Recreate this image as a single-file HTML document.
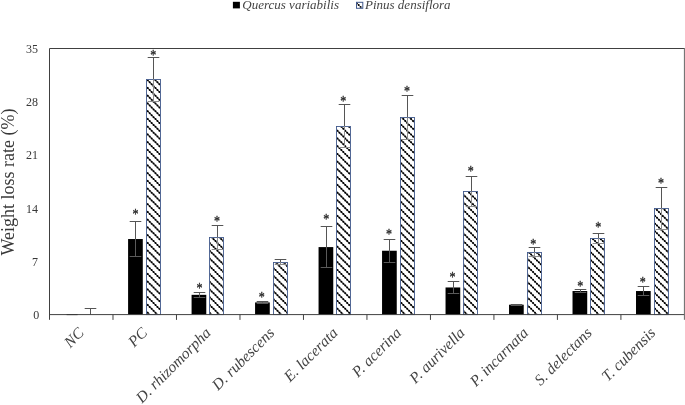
<!DOCTYPE html>
<html><head><meta charset="utf-8"><title>Weight loss rate</title>
<style>
html,body{margin:0;padding:0;background:#fff;}
body{width:685px;height:405px;overflow:hidden;}
svg{display:block;}
text{font-family:"Liberation Serif","Times New Roman",serif;fill:#383838;}
.it{font-style:italic;fill:#444;}
</style></head><body>
<svg width="685" height="405" viewBox="0 0 685 405">
<rect width="685" height="405" fill="#fff"/>

<rect x="232.9" y="1.8" width="7" height="6.6" fill="#000"/>
<text class="it" x="242.3" y="9.3" font-size="13">Quercus variabilis</text>
<clipPath id="lg"><rect x="357" y="2.8" width="5.3" height="5"/></clipPath>
<g clip-path="url(#lg)"><circle cx="356.8" cy="3.2" r="1"/><circle cx="358.7" cy="5.1" r="1"/><circle cx="360.6" cy="7.1" r="1"/><path d="M355,1.4L363,9.4" stroke="#000" stroke-opacity="0.45" stroke-width="1"/></g>
<rect x="356.5" y="2.3" width="6.3" height="6" fill="none" stroke="#41598c" stroke-width="1"/>
<text class="it" x="365" y="9.3" font-size="13">Pinus densiflora</text>
<text transform="translate(14,255.6) rotate(-90)" font-size="18">Weight loss rate (%)</text>
<text x="39.2" y="319.4" font-size="12" text-anchor="end">0</text>
<text x="38.0" y="265.7" font-size="12" text-anchor="end">7</text>
<text x="38.0" y="212.5" font-size="12" text-anchor="end">14</text>
<text x="38.0" y="159.2" font-size="12" text-anchor="end">21</text>
<text x="38.0" y="106.0" font-size="12" text-anchor="end">28</text>
<text x="38.0" y="52.8" font-size="12" text-anchor="end">35</text>
<rect x="66.60" y="314.00" width="11.00" height="1.10" fill="#000"/>
<path d="M90.50,308.50 V314.60 M84.70,308.50 h11.6" stroke="#555" stroke-width="1" fill="none"/>
<rect x="128.09" y="239.03" width="14.70" height="75.57" fill="#000"/>
<clipPath id="c1"><rect x="146.95" y="79.95" width="13.10" height="234.65"/></clipPath><g clip-path="url(#c1)"><path fill="#000" d="M146.76,80.35a1.00,1.00 0 1 0 2.00,0a1.00,1.00 0 1 0 -2.00,0zM154.51,80.35a1.00,1.00 0 1 0 2.00,0a1.00,1.00 0 1 0 -2.00,0zM148.70,82.29a1.00,1.00 0 1 0 2.00,0a1.00,1.00 0 1 0 -2.00,0zM156.45,82.29a1.00,1.00 0 1 0 2.00,0a1.00,1.00 0 1 0 -2.00,0zM150.64,84.23a1.00,1.00 0 1 0 2.00,0a1.00,1.00 0 1 0 -2.00,0zM158.38,84.23a1.00,1.00 0 1 0 2.00,0a1.00,1.00 0 1 0 -2.00,0zM152.57,86.16a1.00,1.00 0 1 0 2.00,0a1.00,1.00 0 1 0 -2.00,0zM146.76,88.10a1.00,1.00 0 1 0 2.00,0a1.00,1.00 0 1 0 -2.00,0zM154.51,88.10a1.00,1.00 0 1 0 2.00,0a1.00,1.00 0 1 0 -2.00,0zM148.70,90.04a1.00,1.00 0 1 0 2.00,0a1.00,1.00 0 1 0 -2.00,0zM156.45,90.04a1.00,1.00 0 1 0 2.00,0a1.00,1.00 0 1 0 -2.00,0zM150.64,91.97a1.00,1.00 0 1 0 2.00,0a1.00,1.00 0 1 0 -2.00,0zM158.38,91.97a1.00,1.00 0 1 0 2.00,0a1.00,1.00 0 1 0 -2.00,0zM152.57,93.91a1.00,1.00 0 1 0 2.00,0a1.00,1.00 0 1 0 -2.00,0zM146.76,95.84a1.00,1.00 0 1 0 2.00,0a1.00,1.00 0 1 0 -2.00,0zM154.51,95.84a1.00,1.00 0 1 0 2.00,0a1.00,1.00 0 1 0 -2.00,0zM148.70,97.78a1.00,1.00 0 1 0 2.00,0a1.00,1.00 0 1 0 -2.00,0zM156.45,97.78a1.00,1.00 0 1 0 2.00,0a1.00,1.00 0 1 0 -2.00,0zM150.64,99.72a1.00,1.00 0 1 0 2.00,0a1.00,1.00 0 1 0 -2.00,0zM158.38,99.72a1.00,1.00 0 1 0 2.00,0a1.00,1.00 0 1 0 -2.00,0zM152.57,101.65a1.00,1.00 0 1 0 2.00,0a1.00,1.00 0 1 0 -2.00,0zM146.76,103.59a1.00,1.00 0 1 0 2.00,0a1.00,1.00 0 1 0 -2.00,0zM154.51,103.59a1.00,1.00 0 1 0 2.00,0a1.00,1.00 0 1 0 -2.00,0zM148.70,105.53a1.00,1.00 0 1 0 2.00,0a1.00,1.00 0 1 0 -2.00,0zM156.45,105.53a1.00,1.00 0 1 0 2.00,0a1.00,1.00 0 1 0 -2.00,0zM150.64,107.46a1.00,1.00 0 1 0 2.00,0a1.00,1.00 0 1 0 -2.00,0zM158.38,107.46a1.00,1.00 0 1 0 2.00,0a1.00,1.00 0 1 0 -2.00,0zM152.57,109.40a1.00,1.00 0 1 0 2.00,0a1.00,1.00 0 1 0 -2.00,0zM146.76,111.33a1.00,1.00 0 1 0 2.00,0a1.00,1.00 0 1 0 -2.00,0zM154.51,111.33a1.00,1.00 0 1 0 2.00,0a1.00,1.00 0 1 0 -2.00,0zM148.70,113.27a1.00,1.00 0 1 0 2.00,0a1.00,1.00 0 1 0 -2.00,0zM156.45,113.27a1.00,1.00 0 1 0 2.00,0a1.00,1.00 0 1 0 -2.00,0zM150.64,115.21a1.00,1.00 0 1 0 2.00,0a1.00,1.00 0 1 0 -2.00,0zM158.38,115.21a1.00,1.00 0 1 0 2.00,0a1.00,1.00 0 1 0 -2.00,0zM152.57,117.14a1.00,1.00 0 1 0 2.00,0a1.00,1.00 0 1 0 -2.00,0zM146.76,119.08a1.00,1.00 0 1 0 2.00,0a1.00,1.00 0 1 0 -2.00,0zM154.51,119.08a1.00,1.00 0 1 0 2.00,0a1.00,1.00 0 1 0 -2.00,0zM148.70,121.02a1.00,1.00 0 1 0 2.00,0a1.00,1.00 0 1 0 -2.00,0zM156.45,121.02a1.00,1.00 0 1 0 2.00,0a1.00,1.00 0 1 0 -2.00,0zM150.64,122.95a1.00,1.00 0 1 0 2.00,0a1.00,1.00 0 1 0 -2.00,0zM158.38,122.95a1.00,1.00 0 1 0 2.00,0a1.00,1.00 0 1 0 -2.00,0zM152.57,124.89a1.00,1.00 0 1 0 2.00,0a1.00,1.00 0 1 0 -2.00,0zM146.76,126.82a1.00,1.00 0 1 0 2.00,0a1.00,1.00 0 1 0 -2.00,0zM154.51,126.82a1.00,1.00 0 1 0 2.00,0a1.00,1.00 0 1 0 -2.00,0zM148.70,128.76a1.00,1.00 0 1 0 2.00,0a1.00,1.00 0 1 0 -2.00,0zM156.45,128.76a1.00,1.00 0 1 0 2.00,0a1.00,1.00 0 1 0 -2.00,0zM150.64,130.70a1.00,1.00 0 1 0 2.00,0a1.00,1.00 0 1 0 -2.00,0zM158.38,130.70a1.00,1.00 0 1 0 2.00,0a1.00,1.00 0 1 0 -2.00,0zM152.57,132.63a1.00,1.00 0 1 0 2.00,0a1.00,1.00 0 1 0 -2.00,0zM146.76,134.57a1.00,1.00 0 1 0 2.00,0a1.00,1.00 0 1 0 -2.00,0zM154.51,134.57a1.00,1.00 0 1 0 2.00,0a1.00,1.00 0 1 0 -2.00,0zM148.70,136.51a1.00,1.00 0 1 0 2.00,0a1.00,1.00 0 1 0 -2.00,0zM156.45,136.51a1.00,1.00 0 1 0 2.00,0a1.00,1.00 0 1 0 -2.00,0zM150.64,138.44a1.00,1.00 0 1 0 2.00,0a1.00,1.00 0 1 0 -2.00,0zM158.38,138.44a1.00,1.00 0 1 0 2.00,0a1.00,1.00 0 1 0 -2.00,0zM152.57,140.38a1.00,1.00 0 1 0 2.00,0a1.00,1.00 0 1 0 -2.00,0zM146.76,142.31a1.00,1.00 0 1 0 2.00,0a1.00,1.00 0 1 0 -2.00,0zM154.51,142.31a1.00,1.00 0 1 0 2.00,0a1.00,1.00 0 1 0 -2.00,0zM148.70,144.25a1.00,1.00 0 1 0 2.00,0a1.00,1.00 0 1 0 -2.00,0zM156.45,144.25a1.00,1.00 0 1 0 2.00,0a1.00,1.00 0 1 0 -2.00,0zM150.64,146.19a1.00,1.00 0 1 0 2.00,0a1.00,1.00 0 1 0 -2.00,0zM158.38,146.19a1.00,1.00 0 1 0 2.00,0a1.00,1.00 0 1 0 -2.00,0zM152.57,148.12a1.00,1.00 0 1 0 2.00,0a1.00,1.00 0 1 0 -2.00,0zM146.76,150.06a1.00,1.00 0 1 0 2.00,0a1.00,1.00 0 1 0 -2.00,0zM154.51,150.06a1.00,1.00 0 1 0 2.00,0a1.00,1.00 0 1 0 -2.00,0zM148.70,152.00a1.00,1.00 0 1 0 2.00,0a1.00,1.00 0 1 0 -2.00,0zM156.45,152.00a1.00,1.00 0 1 0 2.00,0a1.00,1.00 0 1 0 -2.00,0zM150.64,153.93a1.00,1.00 0 1 0 2.00,0a1.00,1.00 0 1 0 -2.00,0zM158.38,153.93a1.00,1.00 0 1 0 2.00,0a1.00,1.00 0 1 0 -2.00,0zM152.57,155.87a1.00,1.00 0 1 0 2.00,0a1.00,1.00 0 1 0 -2.00,0zM146.76,157.80a1.00,1.00 0 1 0 2.00,0a1.00,1.00 0 1 0 -2.00,0zM154.51,157.80a1.00,1.00 0 1 0 2.00,0a1.00,1.00 0 1 0 -2.00,0zM148.70,159.74a1.00,1.00 0 1 0 2.00,0a1.00,1.00 0 1 0 -2.00,0zM156.45,159.74a1.00,1.00 0 1 0 2.00,0a1.00,1.00 0 1 0 -2.00,0zM150.64,161.68a1.00,1.00 0 1 0 2.00,0a1.00,1.00 0 1 0 -2.00,0zM158.38,161.68a1.00,1.00 0 1 0 2.00,0a1.00,1.00 0 1 0 -2.00,0zM152.57,163.61a1.00,1.00 0 1 0 2.00,0a1.00,1.00 0 1 0 -2.00,0zM146.76,165.55a1.00,1.00 0 1 0 2.00,0a1.00,1.00 0 1 0 -2.00,0zM154.51,165.55a1.00,1.00 0 1 0 2.00,0a1.00,1.00 0 1 0 -2.00,0zM148.70,167.49a1.00,1.00 0 1 0 2.00,0a1.00,1.00 0 1 0 -2.00,0zM156.45,167.49a1.00,1.00 0 1 0 2.00,0a1.00,1.00 0 1 0 -2.00,0zM150.64,169.42a1.00,1.00 0 1 0 2.00,0a1.00,1.00 0 1 0 -2.00,0zM158.38,169.42a1.00,1.00 0 1 0 2.00,0a1.00,1.00 0 1 0 -2.00,0zM152.57,171.36a1.00,1.00 0 1 0 2.00,0a1.00,1.00 0 1 0 -2.00,0zM146.76,173.29a1.00,1.00 0 1 0 2.00,0a1.00,1.00 0 1 0 -2.00,0zM154.51,173.29a1.00,1.00 0 1 0 2.00,0a1.00,1.00 0 1 0 -2.00,0zM148.70,175.23a1.00,1.00 0 1 0 2.00,0a1.00,1.00 0 1 0 -2.00,0zM156.45,175.23a1.00,1.00 0 1 0 2.00,0a1.00,1.00 0 1 0 -2.00,0zM150.64,177.17a1.00,1.00 0 1 0 2.00,0a1.00,1.00 0 1 0 -2.00,0zM158.38,177.17a1.00,1.00 0 1 0 2.00,0a1.00,1.00 0 1 0 -2.00,0zM152.57,179.10a1.00,1.00 0 1 0 2.00,0a1.00,1.00 0 1 0 -2.00,0zM146.76,181.04a1.00,1.00 0 1 0 2.00,0a1.00,1.00 0 1 0 -2.00,0zM154.51,181.04a1.00,1.00 0 1 0 2.00,0a1.00,1.00 0 1 0 -2.00,0zM148.70,182.98a1.00,1.00 0 1 0 2.00,0a1.00,1.00 0 1 0 -2.00,0zM156.45,182.98a1.00,1.00 0 1 0 2.00,0a1.00,1.00 0 1 0 -2.00,0zM150.64,184.91a1.00,1.00 0 1 0 2.00,0a1.00,1.00 0 1 0 -2.00,0zM158.38,184.91a1.00,1.00 0 1 0 2.00,0a1.00,1.00 0 1 0 -2.00,0zM152.57,186.85a1.00,1.00 0 1 0 2.00,0a1.00,1.00 0 1 0 -2.00,0zM146.76,188.78a1.00,1.00 0 1 0 2.00,0a1.00,1.00 0 1 0 -2.00,0zM154.51,188.78a1.00,1.00 0 1 0 2.00,0a1.00,1.00 0 1 0 -2.00,0zM148.70,190.72a1.00,1.00 0 1 0 2.00,0a1.00,1.00 0 1 0 -2.00,0zM156.45,190.72a1.00,1.00 0 1 0 2.00,0a1.00,1.00 0 1 0 -2.00,0zM150.64,192.66a1.00,1.00 0 1 0 2.00,0a1.00,1.00 0 1 0 -2.00,0zM158.38,192.66a1.00,1.00 0 1 0 2.00,0a1.00,1.00 0 1 0 -2.00,0zM152.57,194.59a1.00,1.00 0 1 0 2.00,0a1.00,1.00 0 1 0 -2.00,0zM146.76,196.53a1.00,1.00 0 1 0 2.00,0a1.00,1.00 0 1 0 -2.00,0zM154.51,196.53a1.00,1.00 0 1 0 2.00,0a1.00,1.00 0 1 0 -2.00,0zM148.70,198.47a1.00,1.00 0 1 0 2.00,0a1.00,1.00 0 1 0 -2.00,0zM156.45,198.47a1.00,1.00 0 1 0 2.00,0a1.00,1.00 0 1 0 -2.00,0zM150.64,200.40a1.00,1.00 0 1 0 2.00,0a1.00,1.00 0 1 0 -2.00,0zM158.38,200.40a1.00,1.00 0 1 0 2.00,0a1.00,1.00 0 1 0 -2.00,0zM152.57,202.34a1.00,1.00 0 1 0 2.00,0a1.00,1.00 0 1 0 -2.00,0zM146.76,204.27a1.00,1.00 0 1 0 2.00,0a1.00,1.00 0 1 0 -2.00,0zM154.51,204.27a1.00,1.00 0 1 0 2.00,0a1.00,1.00 0 1 0 -2.00,0zM148.70,206.21a1.00,1.00 0 1 0 2.00,0a1.00,1.00 0 1 0 -2.00,0zM156.45,206.21a1.00,1.00 0 1 0 2.00,0a1.00,1.00 0 1 0 -2.00,0zM150.64,208.15a1.00,1.00 0 1 0 2.00,0a1.00,1.00 0 1 0 -2.00,0zM158.38,208.15a1.00,1.00 0 1 0 2.00,0a1.00,1.00 0 1 0 -2.00,0zM152.57,210.08a1.00,1.00 0 1 0 2.00,0a1.00,1.00 0 1 0 -2.00,0zM146.76,212.02a1.00,1.00 0 1 0 2.00,0a1.00,1.00 0 1 0 -2.00,0zM154.51,212.02a1.00,1.00 0 1 0 2.00,0a1.00,1.00 0 1 0 -2.00,0zM148.70,213.96a1.00,1.00 0 1 0 2.00,0a1.00,1.00 0 1 0 -2.00,0zM156.45,213.96a1.00,1.00 0 1 0 2.00,0a1.00,1.00 0 1 0 -2.00,0zM150.64,215.89a1.00,1.00 0 1 0 2.00,0a1.00,1.00 0 1 0 -2.00,0zM158.38,215.89a1.00,1.00 0 1 0 2.00,0a1.00,1.00 0 1 0 -2.00,0zM152.57,217.83a1.00,1.00 0 1 0 2.00,0a1.00,1.00 0 1 0 -2.00,0zM146.76,219.76a1.00,1.00 0 1 0 2.00,0a1.00,1.00 0 1 0 -2.00,0zM154.51,219.76a1.00,1.00 0 1 0 2.00,0a1.00,1.00 0 1 0 -2.00,0zM148.70,221.70a1.00,1.00 0 1 0 2.00,0a1.00,1.00 0 1 0 -2.00,0zM156.45,221.70a1.00,1.00 0 1 0 2.00,0a1.00,1.00 0 1 0 -2.00,0zM150.64,223.64a1.00,1.00 0 1 0 2.00,0a1.00,1.00 0 1 0 -2.00,0zM158.38,223.64a1.00,1.00 0 1 0 2.00,0a1.00,1.00 0 1 0 -2.00,0zM152.57,225.57a1.00,1.00 0 1 0 2.00,0a1.00,1.00 0 1 0 -2.00,0zM146.76,227.51a1.00,1.00 0 1 0 2.00,0a1.00,1.00 0 1 0 -2.00,0zM154.51,227.51a1.00,1.00 0 1 0 2.00,0a1.00,1.00 0 1 0 -2.00,0zM148.70,229.45a1.00,1.00 0 1 0 2.00,0a1.00,1.00 0 1 0 -2.00,0zM156.45,229.45a1.00,1.00 0 1 0 2.00,0a1.00,1.00 0 1 0 -2.00,0zM150.64,231.38a1.00,1.00 0 1 0 2.00,0a1.00,1.00 0 1 0 -2.00,0zM158.38,231.38a1.00,1.00 0 1 0 2.00,0a1.00,1.00 0 1 0 -2.00,0zM152.57,233.32a1.00,1.00 0 1 0 2.00,0a1.00,1.00 0 1 0 -2.00,0zM146.76,235.25a1.00,1.00 0 1 0 2.00,0a1.00,1.00 0 1 0 -2.00,0zM154.51,235.25a1.00,1.00 0 1 0 2.00,0a1.00,1.00 0 1 0 -2.00,0zM148.70,237.19a1.00,1.00 0 1 0 2.00,0a1.00,1.00 0 1 0 -2.00,0zM156.45,237.19a1.00,1.00 0 1 0 2.00,0a1.00,1.00 0 1 0 -2.00,0zM150.64,239.13a1.00,1.00 0 1 0 2.00,0a1.00,1.00 0 1 0 -2.00,0zM158.38,239.13a1.00,1.00 0 1 0 2.00,0a1.00,1.00 0 1 0 -2.00,0zM152.57,241.06a1.00,1.00 0 1 0 2.00,0a1.00,1.00 0 1 0 -2.00,0zM146.76,243.00a1.00,1.00 0 1 0 2.00,0a1.00,1.00 0 1 0 -2.00,0zM154.51,243.00a1.00,1.00 0 1 0 2.00,0a1.00,1.00 0 1 0 -2.00,0zM148.70,244.94a1.00,1.00 0 1 0 2.00,0a1.00,1.00 0 1 0 -2.00,0zM156.45,244.94a1.00,1.00 0 1 0 2.00,0a1.00,1.00 0 1 0 -2.00,0zM150.64,246.87a1.00,1.00 0 1 0 2.00,0a1.00,1.00 0 1 0 -2.00,0zM158.38,246.87a1.00,1.00 0 1 0 2.00,0a1.00,1.00 0 1 0 -2.00,0zM152.57,248.81a1.00,1.00 0 1 0 2.00,0a1.00,1.00 0 1 0 -2.00,0zM146.76,250.74a1.00,1.00 0 1 0 2.00,0a1.00,1.00 0 1 0 -2.00,0zM154.51,250.74a1.00,1.00 0 1 0 2.00,0a1.00,1.00 0 1 0 -2.00,0zM148.70,252.68a1.00,1.00 0 1 0 2.00,0a1.00,1.00 0 1 0 -2.00,0zM156.45,252.68a1.00,1.00 0 1 0 2.00,0a1.00,1.00 0 1 0 -2.00,0zM150.64,254.62a1.00,1.00 0 1 0 2.00,0a1.00,1.00 0 1 0 -2.00,0zM158.38,254.62a1.00,1.00 0 1 0 2.00,0a1.00,1.00 0 1 0 -2.00,0zM152.57,256.55a1.00,1.00 0 1 0 2.00,0a1.00,1.00 0 1 0 -2.00,0zM146.76,258.49a1.00,1.00 0 1 0 2.00,0a1.00,1.00 0 1 0 -2.00,0zM154.51,258.49a1.00,1.00 0 1 0 2.00,0a1.00,1.00 0 1 0 -2.00,0zM148.70,260.43a1.00,1.00 0 1 0 2.00,0a1.00,1.00 0 1 0 -2.00,0zM156.45,260.43a1.00,1.00 0 1 0 2.00,0a1.00,1.00 0 1 0 -2.00,0zM150.64,262.36a1.00,1.00 0 1 0 2.00,0a1.00,1.00 0 1 0 -2.00,0zM158.38,262.36a1.00,1.00 0 1 0 2.00,0a1.00,1.00 0 1 0 -2.00,0zM152.57,264.30a1.00,1.00 0 1 0 2.00,0a1.00,1.00 0 1 0 -2.00,0zM146.76,266.23a1.00,1.00 0 1 0 2.00,0a1.00,1.00 0 1 0 -2.00,0zM154.51,266.23a1.00,1.00 0 1 0 2.00,0a1.00,1.00 0 1 0 -2.00,0zM148.70,268.17a1.00,1.00 0 1 0 2.00,0a1.00,1.00 0 1 0 -2.00,0zM156.45,268.17a1.00,1.00 0 1 0 2.00,0a1.00,1.00 0 1 0 -2.00,0zM150.64,270.11a1.00,1.00 0 1 0 2.00,0a1.00,1.00 0 1 0 -2.00,0zM158.38,270.11a1.00,1.00 0 1 0 2.00,0a1.00,1.00 0 1 0 -2.00,0zM152.57,272.04a1.00,1.00 0 1 0 2.00,0a1.00,1.00 0 1 0 -2.00,0zM146.76,273.98a1.00,1.00 0 1 0 2.00,0a1.00,1.00 0 1 0 -2.00,0zM154.51,273.98a1.00,1.00 0 1 0 2.00,0a1.00,1.00 0 1 0 -2.00,0zM148.70,275.92a1.00,1.00 0 1 0 2.00,0a1.00,1.00 0 1 0 -2.00,0zM156.45,275.92a1.00,1.00 0 1 0 2.00,0a1.00,1.00 0 1 0 -2.00,0zM150.64,277.85a1.00,1.00 0 1 0 2.00,0a1.00,1.00 0 1 0 -2.00,0zM158.38,277.85a1.00,1.00 0 1 0 2.00,0a1.00,1.00 0 1 0 -2.00,0zM152.57,279.79a1.00,1.00 0 1 0 2.00,0a1.00,1.00 0 1 0 -2.00,0zM146.76,281.72a1.00,1.00 0 1 0 2.00,0a1.00,1.00 0 1 0 -2.00,0zM154.51,281.72a1.00,1.00 0 1 0 2.00,0a1.00,1.00 0 1 0 -2.00,0zM148.70,283.66a1.00,1.00 0 1 0 2.00,0a1.00,1.00 0 1 0 -2.00,0zM156.45,283.66a1.00,1.00 0 1 0 2.00,0a1.00,1.00 0 1 0 -2.00,0zM150.64,285.60a1.00,1.00 0 1 0 2.00,0a1.00,1.00 0 1 0 -2.00,0zM158.38,285.60a1.00,1.00 0 1 0 2.00,0a1.00,1.00 0 1 0 -2.00,0zM152.57,287.53a1.00,1.00 0 1 0 2.00,0a1.00,1.00 0 1 0 -2.00,0zM146.76,289.47a1.00,1.00 0 1 0 2.00,0a1.00,1.00 0 1 0 -2.00,0zM154.51,289.47a1.00,1.00 0 1 0 2.00,0a1.00,1.00 0 1 0 -2.00,0zM148.70,291.41a1.00,1.00 0 1 0 2.00,0a1.00,1.00 0 1 0 -2.00,0zM156.45,291.41a1.00,1.00 0 1 0 2.00,0a1.00,1.00 0 1 0 -2.00,0zM150.64,293.34a1.00,1.00 0 1 0 2.00,0a1.00,1.00 0 1 0 -2.00,0zM158.38,293.34a1.00,1.00 0 1 0 2.00,0a1.00,1.00 0 1 0 -2.00,0zM152.57,295.28a1.00,1.00 0 1 0 2.00,0a1.00,1.00 0 1 0 -2.00,0zM146.76,297.21a1.00,1.00 0 1 0 2.00,0a1.00,1.00 0 1 0 -2.00,0zM154.51,297.21a1.00,1.00 0 1 0 2.00,0a1.00,1.00 0 1 0 -2.00,0zM148.70,299.15a1.00,1.00 0 1 0 2.00,0a1.00,1.00 0 1 0 -2.00,0zM156.45,299.15a1.00,1.00 0 1 0 2.00,0a1.00,1.00 0 1 0 -2.00,0zM150.64,301.09a1.00,1.00 0 1 0 2.00,0a1.00,1.00 0 1 0 -2.00,0zM158.38,301.09a1.00,1.00 0 1 0 2.00,0a1.00,1.00 0 1 0 -2.00,0zM152.57,303.02a1.00,1.00 0 1 0 2.00,0a1.00,1.00 0 1 0 -2.00,0zM146.76,304.96a1.00,1.00 0 1 0 2.00,0a1.00,1.00 0 1 0 -2.00,0zM154.51,304.96a1.00,1.00 0 1 0 2.00,0a1.00,1.00 0 1 0 -2.00,0zM148.70,306.90a1.00,1.00 0 1 0 2.00,0a1.00,1.00 0 1 0 -2.00,0zM156.45,306.90a1.00,1.00 0 1 0 2.00,0a1.00,1.00 0 1 0 -2.00,0zM150.64,308.83a1.00,1.00 0 1 0 2.00,0a1.00,1.00 0 1 0 -2.00,0zM158.38,308.83a1.00,1.00 0 1 0 2.00,0a1.00,1.00 0 1 0 -2.00,0zM152.57,310.77a1.00,1.00 0 1 0 2.00,0a1.00,1.00 0 1 0 -2.00,0zM146.76,312.70a1.00,1.00 0 1 0 2.00,0a1.00,1.00 0 1 0 -2.00,0zM154.51,312.70a1.00,1.00 0 1 0 2.00,0a1.00,1.00 0 1 0 -2.00,0zM148.70,314.64a1.00,1.00 0 1 0 2.00,0a1.00,1.00 0 1 0 -2.00,0zM156.45,314.64a1.00,1.00 0 1 0 2.00,0a1.00,1.00 0 1 0 -2.00,0z"/><path fill="none" stroke="#000" stroke-opacity="0.72" stroke-width="1.1" d="M-102.48,77.95L136.17,316.60M-94.73,77.95L143.92,316.60M-86.99,77.95L151.66,316.60M-79.25,77.95L159.41,316.60M-71.50,77.95L167.15,316.60M-63.76,77.95L174.90,316.60M-56.01,77.95L182.64,316.60M-48.26,77.95L190.39,316.60M-40.52,77.95L198.13,316.60M-32.77,77.95L205.88,316.60M-25.03,77.95L213.62,316.60M-17.28,77.95L221.37,316.60M-9.54,77.95L229.11,316.60M-1.80,77.95L236.86,316.60M5.95,77.95L244.60,316.60M13.70,77.95L252.35,316.60M21.44,77.95L260.09,316.60M29.19,77.95L267.84,316.60M36.93,77.95L275.58,316.60M44.68,77.95L283.33,316.60M52.42,77.95L291.07,316.60M60.17,77.95L298.81,316.60M67.91,77.95L306.56,316.60M75.66,77.95L314.31,316.60M83.40,77.95L322.05,316.60M91.15,77.95L329.80,316.60M98.89,77.95L337.54,316.60M106.64,77.95L345.29,316.60M114.38,77.95L353.03,316.60M122.12,77.95L360.78,316.60M129.87,77.95L368.52,316.60M137.62,77.95L376.27,316.60M145.36,77.95L384.01,316.60M153.11,77.95L391.75,316.60M160.85,77.95L399.50,316.60M168.60,77.95L407.25,316.60"/></g>
<rect x="146.50" y="79.50" width="14.00" height="235.10" fill="none" stroke="#41598c" stroke-width="0.9"/>
<path d="M135.50,221.50 V239.03 M129.70,221.50 h11.6" stroke="#555" stroke-width="1" fill="none"/>
<path d="M135.50,239.03 V256.50 M129.70,256.50 h11.6" stroke="#5a5a5a" stroke-width="1" fill="none"/>
<path d="M153.50,57.50 V79.22 M147.70,57.50 h11.6" stroke="#555" stroke-width="1" fill="none"/>
<path d="M153.50,79.22 V101.50 M147.70,101.50 h11.6" stroke="#8c8c8c" stroke-width="1" fill="none"/>
<rect x="191.58" y="294.83" width="14.70" height="19.77" fill="#000"/>
<clipPath id="c2"><rect x="209.95" y="237.95" width="13.10" height="76.65"/></clipPath><g clip-path="url(#c2)"><path fill="#000" d="M210.66,237.19a1.00,1.00 0 1 0 2.00,0a1.00,1.00 0 1 0 -2.00,0zM218.41,237.19a1.00,1.00 0 1 0 2.00,0a1.00,1.00 0 1 0 -2.00,0zM212.60,239.13a1.00,1.00 0 1 0 2.00,0a1.00,1.00 0 1 0 -2.00,0zM220.34,239.13a1.00,1.00 0 1 0 2.00,0a1.00,1.00 0 1 0 -2.00,0zM214.53,241.06a1.00,1.00 0 1 0 2.00,0a1.00,1.00 0 1 0 -2.00,0zM222.28,241.06a1.00,1.00 0 1 0 2.00,0a1.00,1.00 0 1 0 -2.00,0zM208.72,243.00a1.00,1.00 0 1 0 2.00,0a1.00,1.00 0 1 0 -2.00,0zM216.47,243.00a1.00,1.00 0 1 0 2.00,0a1.00,1.00 0 1 0 -2.00,0zM210.66,244.94a1.00,1.00 0 1 0 2.00,0a1.00,1.00 0 1 0 -2.00,0zM218.41,244.94a1.00,1.00 0 1 0 2.00,0a1.00,1.00 0 1 0 -2.00,0zM212.60,246.87a1.00,1.00 0 1 0 2.00,0a1.00,1.00 0 1 0 -2.00,0zM220.34,246.87a1.00,1.00 0 1 0 2.00,0a1.00,1.00 0 1 0 -2.00,0zM214.53,248.81a1.00,1.00 0 1 0 2.00,0a1.00,1.00 0 1 0 -2.00,0zM222.28,248.81a1.00,1.00 0 1 0 2.00,0a1.00,1.00 0 1 0 -2.00,0zM208.72,250.74a1.00,1.00 0 1 0 2.00,0a1.00,1.00 0 1 0 -2.00,0zM216.47,250.74a1.00,1.00 0 1 0 2.00,0a1.00,1.00 0 1 0 -2.00,0zM210.66,252.68a1.00,1.00 0 1 0 2.00,0a1.00,1.00 0 1 0 -2.00,0zM218.41,252.68a1.00,1.00 0 1 0 2.00,0a1.00,1.00 0 1 0 -2.00,0zM212.60,254.62a1.00,1.00 0 1 0 2.00,0a1.00,1.00 0 1 0 -2.00,0zM220.34,254.62a1.00,1.00 0 1 0 2.00,0a1.00,1.00 0 1 0 -2.00,0zM214.53,256.55a1.00,1.00 0 1 0 2.00,0a1.00,1.00 0 1 0 -2.00,0zM222.28,256.55a1.00,1.00 0 1 0 2.00,0a1.00,1.00 0 1 0 -2.00,0zM208.72,258.49a1.00,1.00 0 1 0 2.00,0a1.00,1.00 0 1 0 -2.00,0zM216.47,258.49a1.00,1.00 0 1 0 2.00,0a1.00,1.00 0 1 0 -2.00,0zM210.66,260.43a1.00,1.00 0 1 0 2.00,0a1.00,1.00 0 1 0 -2.00,0zM218.41,260.43a1.00,1.00 0 1 0 2.00,0a1.00,1.00 0 1 0 -2.00,0zM212.60,262.36a1.00,1.00 0 1 0 2.00,0a1.00,1.00 0 1 0 -2.00,0zM220.34,262.36a1.00,1.00 0 1 0 2.00,0a1.00,1.00 0 1 0 -2.00,0zM214.53,264.30a1.00,1.00 0 1 0 2.00,0a1.00,1.00 0 1 0 -2.00,0zM222.28,264.30a1.00,1.00 0 1 0 2.00,0a1.00,1.00 0 1 0 -2.00,0zM208.72,266.23a1.00,1.00 0 1 0 2.00,0a1.00,1.00 0 1 0 -2.00,0zM216.47,266.23a1.00,1.00 0 1 0 2.00,0a1.00,1.00 0 1 0 -2.00,0zM210.66,268.17a1.00,1.00 0 1 0 2.00,0a1.00,1.00 0 1 0 -2.00,0zM218.41,268.17a1.00,1.00 0 1 0 2.00,0a1.00,1.00 0 1 0 -2.00,0zM212.60,270.11a1.00,1.00 0 1 0 2.00,0a1.00,1.00 0 1 0 -2.00,0zM220.34,270.11a1.00,1.00 0 1 0 2.00,0a1.00,1.00 0 1 0 -2.00,0zM214.53,272.04a1.00,1.00 0 1 0 2.00,0a1.00,1.00 0 1 0 -2.00,0zM222.28,272.04a1.00,1.00 0 1 0 2.00,0a1.00,1.00 0 1 0 -2.00,0zM208.72,273.98a1.00,1.00 0 1 0 2.00,0a1.00,1.00 0 1 0 -2.00,0zM216.47,273.98a1.00,1.00 0 1 0 2.00,0a1.00,1.00 0 1 0 -2.00,0zM210.66,275.92a1.00,1.00 0 1 0 2.00,0a1.00,1.00 0 1 0 -2.00,0zM218.41,275.92a1.00,1.00 0 1 0 2.00,0a1.00,1.00 0 1 0 -2.00,0zM212.60,277.85a1.00,1.00 0 1 0 2.00,0a1.00,1.00 0 1 0 -2.00,0zM220.34,277.85a1.00,1.00 0 1 0 2.00,0a1.00,1.00 0 1 0 -2.00,0zM214.53,279.79a1.00,1.00 0 1 0 2.00,0a1.00,1.00 0 1 0 -2.00,0zM222.28,279.79a1.00,1.00 0 1 0 2.00,0a1.00,1.00 0 1 0 -2.00,0zM208.72,281.72a1.00,1.00 0 1 0 2.00,0a1.00,1.00 0 1 0 -2.00,0zM216.47,281.72a1.00,1.00 0 1 0 2.00,0a1.00,1.00 0 1 0 -2.00,0zM210.66,283.66a1.00,1.00 0 1 0 2.00,0a1.00,1.00 0 1 0 -2.00,0zM218.41,283.66a1.00,1.00 0 1 0 2.00,0a1.00,1.00 0 1 0 -2.00,0zM212.60,285.60a1.00,1.00 0 1 0 2.00,0a1.00,1.00 0 1 0 -2.00,0zM220.34,285.60a1.00,1.00 0 1 0 2.00,0a1.00,1.00 0 1 0 -2.00,0zM214.53,287.53a1.00,1.00 0 1 0 2.00,0a1.00,1.00 0 1 0 -2.00,0zM222.28,287.53a1.00,1.00 0 1 0 2.00,0a1.00,1.00 0 1 0 -2.00,0zM208.72,289.47a1.00,1.00 0 1 0 2.00,0a1.00,1.00 0 1 0 -2.00,0zM216.47,289.47a1.00,1.00 0 1 0 2.00,0a1.00,1.00 0 1 0 -2.00,0zM210.66,291.41a1.00,1.00 0 1 0 2.00,0a1.00,1.00 0 1 0 -2.00,0zM218.41,291.41a1.00,1.00 0 1 0 2.00,0a1.00,1.00 0 1 0 -2.00,0zM212.60,293.34a1.00,1.00 0 1 0 2.00,0a1.00,1.00 0 1 0 -2.00,0zM220.34,293.34a1.00,1.00 0 1 0 2.00,0a1.00,1.00 0 1 0 -2.00,0zM214.53,295.28a1.00,1.00 0 1 0 2.00,0a1.00,1.00 0 1 0 -2.00,0zM222.28,295.28a1.00,1.00 0 1 0 2.00,0a1.00,1.00 0 1 0 -2.00,0zM208.72,297.21a1.00,1.00 0 1 0 2.00,0a1.00,1.00 0 1 0 -2.00,0zM216.47,297.21a1.00,1.00 0 1 0 2.00,0a1.00,1.00 0 1 0 -2.00,0zM210.66,299.15a1.00,1.00 0 1 0 2.00,0a1.00,1.00 0 1 0 -2.00,0zM218.41,299.15a1.00,1.00 0 1 0 2.00,0a1.00,1.00 0 1 0 -2.00,0zM212.60,301.09a1.00,1.00 0 1 0 2.00,0a1.00,1.00 0 1 0 -2.00,0zM220.34,301.09a1.00,1.00 0 1 0 2.00,0a1.00,1.00 0 1 0 -2.00,0zM214.53,303.02a1.00,1.00 0 1 0 2.00,0a1.00,1.00 0 1 0 -2.00,0zM222.28,303.02a1.00,1.00 0 1 0 2.00,0a1.00,1.00 0 1 0 -2.00,0zM208.72,304.96a1.00,1.00 0 1 0 2.00,0a1.00,1.00 0 1 0 -2.00,0zM216.47,304.96a1.00,1.00 0 1 0 2.00,0a1.00,1.00 0 1 0 -2.00,0zM210.66,306.90a1.00,1.00 0 1 0 2.00,0a1.00,1.00 0 1 0 -2.00,0zM218.41,306.90a1.00,1.00 0 1 0 2.00,0a1.00,1.00 0 1 0 -2.00,0zM212.60,308.83a1.00,1.00 0 1 0 2.00,0a1.00,1.00 0 1 0 -2.00,0zM220.34,308.83a1.00,1.00 0 1 0 2.00,0a1.00,1.00 0 1 0 -2.00,0zM214.53,310.77a1.00,1.00 0 1 0 2.00,0a1.00,1.00 0 1 0 -2.00,0zM222.28,310.77a1.00,1.00 0 1 0 2.00,0a1.00,1.00 0 1 0 -2.00,0zM208.72,312.70a1.00,1.00 0 1 0 2.00,0a1.00,1.00 0 1 0 -2.00,0zM216.47,312.70a1.00,1.00 0 1 0 2.00,0a1.00,1.00 0 1 0 -2.00,0zM210.66,314.64a1.00,1.00 0 1 0 2.00,0a1.00,1.00 0 1 0 -2.00,0zM218.41,314.64a1.00,1.00 0 1 0 2.00,0a1.00,1.00 0 1 0 -2.00,0z"/><path fill="none" stroke="#000" stroke-opacity="0.72" stroke-width="1.1" d="M117.48,235.95L198.13,316.60M125.22,235.95L205.88,316.60M132.97,235.95L213.62,316.60M140.71,235.95L221.37,316.60M148.46,235.95L229.11,316.60M156.20,235.95L236.86,316.60M163.95,235.95L244.60,316.60M171.69,235.95L252.35,316.60M179.44,235.95L260.09,316.60M187.19,235.95L267.84,316.60M194.93,235.95L275.58,316.60M202.67,235.95L283.33,316.60M210.42,235.95L291.07,316.60M218.16,235.95L298.81,316.60M225.91,235.95L306.56,316.60M233.66,235.95L314.31,316.60"/></g>
<rect x="209.50" y="237.50" width="14.00" height="77.10" fill="none" stroke="#41598c" stroke-width="0.9"/>
<path d="M199.50,292.50 V294.83 M193.70,292.50 h11.6" stroke="#555" stroke-width="1" fill="none"/>
<path d="M199.50,294.83 V297.50 M193.70,297.50 h11.6" stroke="#5a5a5a" stroke-width="1" fill="none"/>
<path d="M217.50,225.50 V237.43 M211.70,225.50 h11.6" stroke="#555" stroke-width="1" fill="none"/>
<path d="M217.50,237.43 V249.50 M211.70,249.50 h11.6" stroke="#8c8c8c" stroke-width="1" fill="none"/>
<rect x="255.07" y="302.44" width="14.70" height="12.16" fill="#000"/>
<clipPath id="c3"><rect x="273.95" y="262.95" width="13.10" height="51.65"/></clipPath><g clip-path="url(#c3)"><path fill="#000" d="M274.56,262.36a1.00,1.00 0 1 0 2.00,0a1.00,1.00 0 1 0 -2.00,0zM282.30,262.36a1.00,1.00 0 1 0 2.00,0a1.00,1.00 0 1 0 -2.00,0zM276.49,264.30a1.00,1.00 0 1 0 2.00,0a1.00,1.00 0 1 0 -2.00,0zM284.24,264.30a1.00,1.00 0 1 0 2.00,0a1.00,1.00 0 1 0 -2.00,0zM278.43,266.23a1.00,1.00 0 1 0 2.00,0a1.00,1.00 0 1 0 -2.00,0zM286.17,266.23a1.00,1.00 0 1 0 2.00,0a1.00,1.00 0 1 0 -2.00,0zM272.62,268.17a1.00,1.00 0 1 0 2.00,0a1.00,1.00 0 1 0 -2.00,0zM280.37,268.17a1.00,1.00 0 1 0 2.00,0a1.00,1.00 0 1 0 -2.00,0zM274.56,270.11a1.00,1.00 0 1 0 2.00,0a1.00,1.00 0 1 0 -2.00,0zM282.30,270.11a1.00,1.00 0 1 0 2.00,0a1.00,1.00 0 1 0 -2.00,0zM276.49,272.04a1.00,1.00 0 1 0 2.00,0a1.00,1.00 0 1 0 -2.00,0zM284.24,272.04a1.00,1.00 0 1 0 2.00,0a1.00,1.00 0 1 0 -2.00,0zM278.43,273.98a1.00,1.00 0 1 0 2.00,0a1.00,1.00 0 1 0 -2.00,0zM286.17,273.98a1.00,1.00 0 1 0 2.00,0a1.00,1.00 0 1 0 -2.00,0zM272.62,275.92a1.00,1.00 0 1 0 2.00,0a1.00,1.00 0 1 0 -2.00,0zM280.37,275.92a1.00,1.00 0 1 0 2.00,0a1.00,1.00 0 1 0 -2.00,0zM274.56,277.85a1.00,1.00 0 1 0 2.00,0a1.00,1.00 0 1 0 -2.00,0zM282.30,277.85a1.00,1.00 0 1 0 2.00,0a1.00,1.00 0 1 0 -2.00,0zM276.49,279.79a1.00,1.00 0 1 0 2.00,0a1.00,1.00 0 1 0 -2.00,0zM284.24,279.79a1.00,1.00 0 1 0 2.00,0a1.00,1.00 0 1 0 -2.00,0zM278.43,281.72a1.00,1.00 0 1 0 2.00,0a1.00,1.00 0 1 0 -2.00,0zM286.17,281.72a1.00,1.00 0 1 0 2.00,0a1.00,1.00 0 1 0 -2.00,0zM272.62,283.66a1.00,1.00 0 1 0 2.00,0a1.00,1.00 0 1 0 -2.00,0zM280.37,283.66a1.00,1.00 0 1 0 2.00,0a1.00,1.00 0 1 0 -2.00,0zM274.56,285.60a1.00,1.00 0 1 0 2.00,0a1.00,1.00 0 1 0 -2.00,0zM282.30,285.60a1.00,1.00 0 1 0 2.00,0a1.00,1.00 0 1 0 -2.00,0zM276.49,287.53a1.00,1.00 0 1 0 2.00,0a1.00,1.00 0 1 0 -2.00,0zM284.24,287.53a1.00,1.00 0 1 0 2.00,0a1.00,1.00 0 1 0 -2.00,0zM278.43,289.47a1.00,1.00 0 1 0 2.00,0a1.00,1.00 0 1 0 -2.00,0zM286.17,289.47a1.00,1.00 0 1 0 2.00,0a1.00,1.00 0 1 0 -2.00,0zM272.62,291.41a1.00,1.00 0 1 0 2.00,0a1.00,1.00 0 1 0 -2.00,0zM280.37,291.41a1.00,1.00 0 1 0 2.00,0a1.00,1.00 0 1 0 -2.00,0zM274.56,293.34a1.00,1.00 0 1 0 2.00,0a1.00,1.00 0 1 0 -2.00,0zM282.30,293.34a1.00,1.00 0 1 0 2.00,0a1.00,1.00 0 1 0 -2.00,0zM276.49,295.28a1.00,1.00 0 1 0 2.00,0a1.00,1.00 0 1 0 -2.00,0zM284.24,295.28a1.00,1.00 0 1 0 2.00,0a1.00,1.00 0 1 0 -2.00,0zM278.43,297.21a1.00,1.00 0 1 0 2.00,0a1.00,1.00 0 1 0 -2.00,0zM286.17,297.21a1.00,1.00 0 1 0 2.00,0a1.00,1.00 0 1 0 -2.00,0zM272.62,299.15a1.00,1.00 0 1 0 2.00,0a1.00,1.00 0 1 0 -2.00,0zM280.37,299.15a1.00,1.00 0 1 0 2.00,0a1.00,1.00 0 1 0 -2.00,0zM274.56,301.09a1.00,1.00 0 1 0 2.00,0a1.00,1.00 0 1 0 -2.00,0zM282.30,301.09a1.00,1.00 0 1 0 2.00,0a1.00,1.00 0 1 0 -2.00,0zM276.49,303.02a1.00,1.00 0 1 0 2.00,0a1.00,1.00 0 1 0 -2.00,0zM284.24,303.02a1.00,1.00 0 1 0 2.00,0a1.00,1.00 0 1 0 -2.00,0zM278.43,304.96a1.00,1.00 0 1 0 2.00,0a1.00,1.00 0 1 0 -2.00,0zM286.17,304.96a1.00,1.00 0 1 0 2.00,0a1.00,1.00 0 1 0 -2.00,0zM272.62,306.90a1.00,1.00 0 1 0 2.00,0a1.00,1.00 0 1 0 -2.00,0zM280.37,306.90a1.00,1.00 0 1 0 2.00,0a1.00,1.00 0 1 0 -2.00,0zM274.56,308.83a1.00,1.00 0 1 0 2.00,0a1.00,1.00 0 1 0 -2.00,0zM282.30,308.83a1.00,1.00 0 1 0 2.00,0a1.00,1.00 0 1 0 -2.00,0zM276.49,310.77a1.00,1.00 0 1 0 2.00,0a1.00,1.00 0 1 0 -2.00,0zM284.24,310.77a1.00,1.00 0 1 0 2.00,0a1.00,1.00 0 1 0 -2.00,0zM278.43,312.70a1.00,1.00 0 1 0 2.00,0a1.00,1.00 0 1 0 -2.00,0zM286.17,312.70a1.00,1.00 0 1 0 2.00,0a1.00,1.00 0 1 0 -2.00,0zM272.62,314.64a1.00,1.00 0 1 0 2.00,0a1.00,1.00 0 1 0 -2.00,0zM280.37,314.64a1.00,1.00 0 1 0 2.00,0a1.00,1.00 0 1 0 -2.00,0z"/><path fill="none" stroke="#000" stroke-opacity="0.72" stroke-width="1.1" d="M212.19,260.95L267.84,316.60M219.93,260.95L275.58,316.60M227.67,260.95L283.33,316.60M235.42,260.95L291.07,316.60M243.16,260.95L298.81,316.60M250.91,260.95L306.56,316.60M258.65,260.95L314.31,316.60M266.40,260.95L322.05,316.60M274.14,260.95L329.80,316.60M281.89,260.95L337.54,316.60M289.63,260.95L345.29,316.60M297.38,260.95L353.03,316.60"/></g>
<rect x="273.50" y="262.50" width="14.00" height="52.10" fill="none" stroke="#41598c" stroke-width="0.9"/>
<path d="M262.50,301.50 V302.44 M256.70,301.50 h11.6" stroke="#555" stroke-width="1" fill="none"/>
<path d="M262.50,302.44 V303.50 M256.70,303.50 h11.6" stroke="#5a5a5a" stroke-width="1" fill="none"/>
<path d="M280.50,259.50 V262.14 M274.70,259.50 h11.6" stroke="#555" stroke-width="1" fill="none"/>
<path d="M280.50,262.14 V264.50 M274.70,264.50 h11.6" stroke="#8c8c8c" stroke-width="1" fill="none"/>
<rect x="318.56" y="247.09" width="14.70" height="67.51" fill="#000"/>
<clipPath id="c4"><rect x="336.95" y="126.95" width="13.10" height="187.65"/></clipPath><g clip-path="url(#c4)"><path fill="#000" d="M340.39,126.82a1.00,1.00 0 1 0 2.00,0a1.00,1.00 0 1 0 -2.00,0zM348.13,126.82a1.00,1.00 0 1 0 2.00,0a1.00,1.00 0 1 0 -2.00,0zM342.33,128.76a1.00,1.00 0 1 0 2.00,0a1.00,1.00 0 1 0 -2.00,0zM336.52,130.70a1.00,1.00 0 1 0 2.00,0a1.00,1.00 0 1 0 -2.00,0zM344.26,130.70a1.00,1.00 0 1 0 2.00,0a1.00,1.00 0 1 0 -2.00,0zM338.45,132.63a1.00,1.00 0 1 0 2.00,0a1.00,1.00 0 1 0 -2.00,0zM346.20,132.63a1.00,1.00 0 1 0 2.00,0a1.00,1.00 0 1 0 -2.00,0zM340.39,134.57a1.00,1.00 0 1 0 2.00,0a1.00,1.00 0 1 0 -2.00,0zM348.13,134.57a1.00,1.00 0 1 0 2.00,0a1.00,1.00 0 1 0 -2.00,0zM342.33,136.51a1.00,1.00 0 1 0 2.00,0a1.00,1.00 0 1 0 -2.00,0zM336.52,138.44a1.00,1.00 0 1 0 2.00,0a1.00,1.00 0 1 0 -2.00,0zM344.26,138.44a1.00,1.00 0 1 0 2.00,0a1.00,1.00 0 1 0 -2.00,0zM338.45,140.38a1.00,1.00 0 1 0 2.00,0a1.00,1.00 0 1 0 -2.00,0zM346.20,140.38a1.00,1.00 0 1 0 2.00,0a1.00,1.00 0 1 0 -2.00,0zM340.39,142.31a1.00,1.00 0 1 0 2.00,0a1.00,1.00 0 1 0 -2.00,0zM348.13,142.31a1.00,1.00 0 1 0 2.00,0a1.00,1.00 0 1 0 -2.00,0zM342.33,144.25a1.00,1.00 0 1 0 2.00,0a1.00,1.00 0 1 0 -2.00,0zM336.52,146.19a1.00,1.00 0 1 0 2.00,0a1.00,1.00 0 1 0 -2.00,0zM344.26,146.19a1.00,1.00 0 1 0 2.00,0a1.00,1.00 0 1 0 -2.00,0zM338.45,148.12a1.00,1.00 0 1 0 2.00,0a1.00,1.00 0 1 0 -2.00,0zM346.20,148.12a1.00,1.00 0 1 0 2.00,0a1.00,1.00 0 1 0 -2.00,0zM340.39,150.06a1.00,1.00 0 1 0 2.00,0a1.00,1.00 0 1 0 -2.00,0zM348.13,150.06a1.00,1.00 0 1 0 2.00,0a1.00,1.00 0 1 0 -2.00,0zM342.33,152.00a1.00,1.00 0 1 0 2.00,0a1.00,1.00 0 1 0 -2.00,0zM336.52,153.93a1.00,1.00 0 1 0 2.00,0a1.00,1.00 0 1 0 -2.00,0zM344.26,153.93a1.00,1.00 0 1 0 2.00,0a1.00,1.00 0 1 0 -2.00,0zM338.45,155.87a1.00,1.00 0 1 0 2.00,0a1.00,1.00 0 1 0 -2.00,0zM346.20,155.87a1.00,1.00 0 1 0 2.00,0a1.00,1.00 0 1 0 -2.00,0zM340.39,157.80a1.00,1.00 0 1 0 2.00,0a1.00,1.00 0 1 0 -2.00,0zM348.13,157.80a1.00,1.00 0 1 0 2.00,0a1.00,1.00 0 1 0 -2.00,0zM342.33,159.74a1.00,1.00 0 1 0 2.00,0a1.00,1.00 0 1 0 -2.00,0zM336.52,161.68a1.00,1.00 0 1 0 2.00,0a1.00,1.00 0 1 0 -2.00,0zM344.26,161.68a1.00,1.00 0 1 0 2.00,0a1.00,1.00 0 1 0 -2.00,0zM338.45,163.61a1.00,1.00 0 1 0 2.00,0a1.00,1.00 0 1 0 -2.00,0zM346.20,163.61a1.00,1.00 0 1 0 2.00,0a1.00,1.00 0 1 0 -2.00,0zM340.39,165.55a1.00,1.00 0 1 0 2.00,0a1.00,1.00 0 1 0 -2.00,0zM348.13,165.55a1.00,1.00 0 1 0 2.00,0a1.00,1.00 0 1 0 -2.00,0zM342.33,167.49a1.00,1.00 0 1 0 2.00,0a1.00,1.00 0 1 0 -2.00,0zM336.52,169.42a1.00,1.00 0 1 0 2.00,0a1.00,1.00 0 1 0 -2.00,0zM344.26,169.42a1.00,1.00 0 1 0 2.00,0a1.00,1.00 0 1 0 -2.00,0zM338.45,171.36a1.00,1.00 0 1 0 2.00,0a1.00,1.00 0 1 0 -2.00,0zM346.20,171.36a1.00,1.00 0 1 0 2.00,0a1.00,1.00 0 1 0 -2.00,0zM340.39,173.29a1.00,1.00 0 1 0 2.00,0a1.00,1.00 0 1 0 -2.00,0zM348.13,173.29a1.00,1.00 0 1 0 2.00,0a1.00,1.00 0 1 0 -2.00,0zM342.33,175.23a1.00,1.00 0 1 0 2.00,0a1.00,1.00 0 1 0 -2.00,0zM336.52,177.17a1.00,1.00 0 1 0 2.00,0a1.00,1.00 0 1 0 -2.00,0zM344.26,177.17a1.00,1.00 0 1 0 2.00,0a1.00,1.00 0 1 0 -2.00,0zM338.45,179.10a1.00,1.00 0 1 0 2.00,0a1.00,1.00 0 1 0 -2.00,0zM346.20,179.10a1.00,1.00 0 1 0 2.00,0a1.00,1.00 0 1 0 -2.00,0zM340.39,181.04a1.00,1.00 0 1 0 2.00,0a1.00,1.00 0 1 0 -2.00,0zM348.13,181.04a1.00,1.00 0 1 0 2.00,0a1.00,1.00 0 1 0 -2.00,0zM342.33,182.98a1.00,1.00 0 1 0 2.00,0a1.00,1.00 0 1 0 -2.00,0zM336.52,184.91a1.00,1.00 0 1 0 2.00,0a1.00,1.00 0 1 0 -2.00,0zM344.26,184.91a1.00,1.00 0 1 0 2.00,0a1.00,1.00 0 1 0 -2.00,0zM338.45,186.85a1.00,1.00 0 1 0 2.00,0a1.00,1.00 0 1 0 -2.00,0zM346.20,186.85a1.00,1.00 0 1 0 2.00,0a1.00,1.00 0 1 0 -2.00,0zM340.39,188.78a1.00,1.00 0 1 0 2.00,0a1.00,1.00 0 1 0 -2.00,0zM348.13,188.78a1.00,1.00 0 1 0 2.00,0a1.00,1.00 0 1 0 -2.00,0zM342.33,190.72a1.00,1.00 0 1 0 2.00,0a1.00,1.00 0 1 0 -2.00,0zM336.52,192.66a1.00,1.00 0 1 0 2.00,0a1.00,1.00 0 1 0 -2.00,0zM344.26,192.66a1.00,1.00 0 1 0 2.00,0a1.00,1.00 0 1 0 -2.00,0zM338.45,194.59a1.00,1.00 0 1 0 2.00,0a1.00,1.00 0 1 0 -2.00,0zM346.20,194.59a1.00,1.00 0 1 0 2.00,0a1.00,1.00 0 1 0 -2.00,0zM340.39,196.53a1.00,1.00 0 1 0 2.00,0a1.00,1.00 0 1 0 -2.00,0zM348.13,196.53a1.00,1.00 0 1 0 2.00,0a1.00,1.00 0 1 0 -2.00,0zM342.33,198.47a1.00,1.00 0 1 0 2.00,0a1.00,1.00 0 1 0 -2.00,0zM336.52,200.40a1.00,1.00 0 1 0 2.00,0a1.00,1.00 0 1 0 -2.00,0zM344.26,200.40a1.00,1.00 0 1 0 2.00,0a1.00,1.00 0 1 0 -2.00,0zM338.45,202.34a1.00,1.00 0 1 0 2.00,0a1.00,1.00 0 1 0 -2.00,0zM346.20,202.34a1.00,1.00 0 1 0 2.00,0a1.00,1.00 0 1 0 -2.00,0zM340.39,204.27a1.00,1.00 0 1 0 2.00,0a1.00,1.00 0 1 0 -2.00,0zM348.13,204.27a1.00,1.00 0 1 0 2.00,0a1.00,1.00 0 1 0 -2.00,0zM342.33,206.21a1.00,1.00 0 1 0 2.00,0a1.00,1.00 0 1 0 -2.00,0zM336.52,208.15a1.00,1.00 0 1 0 2.00,0a1.00,1.00 0 1 0 -2.00,0zM344.26,208.15a1.00,1.00 0 1 0 2.00,0a1.00,1.00 0 1 0 -2.00,0zM338.45,210.08a1.00,1.00 0 1 0 2.00,0a1.00,1.00 0 1 0 -2.00,0zM346.20,210.08a1.00,1.00 0 1 0 2.00,0a1.00,1.00 0 1 0 -2.00,0zM340.39,212.02a1.00,1.00 0 1 0 2.00,0a1.00,1.00 0 1 0 -2.00,0zM348.13,212.02a1.00,1.00 0 1 0 2.00,0a1.00,1.00 0 1 0 -2.00,0zM342.33,213.96a1.00,1.00 0 1 0 2.00,0a1.00,1.00 0 1 0 -2.00,0zM336.52,215.89a1.00,1.00 0 1 0 2.00,0a1.00,1.00 0 1 0 -2.00,0zM344.26,215.89a1.00,1.00 0 1 0 2.00,0a1.00,1.00 0 1 0 -2.00,0zM338.45,217.83a1.00,1.00 0 1 0 2.00,0a1.00,1.00 0 1 0 -2.00,0zM346.20,217.83a1.00,1.00 0 1 0 2.00,0a1.00,1.00 0 1 0 -2.00,0zM340.39,219.76a1.00,1.00 0 1 0 2.00,0a1.00,1.00 0 1 0 -2.00,0zM348.13,219.76a1.00,1.00 0 1 0 2.00,0a1.00,1.00 0 1 0 -2.00,0zM342.33,221.70a1.00,1.00 0 1 0 2.00,0a1.00,1.00 0 1 0 -2.00,0zM336.52,223.64a1.00,1.00 0 1 0 2.00,0a1.00,1.00 0 1 0 -2.00,0zM344.26,223.64a1.00,1.00 0 1 0 2.00,0a1.00,1.00 0 1 0 -2.00,0zM338.45,225.57a1.00,1.00 0 1 0 2.00,0a1.00,1.00 0 1 0 -2.00,0zM346.20,225.57a1.00,1.00 0 1 0 2.00,0a1.00,1.00 0 1 0 -2.00,0zM340.39,227.51a1.00,1.00 0 1 0 2.00,0a1.00,1.00 0 1 0 -2.00,0zM348.13,227.51a1.00,1.00 0 1 0 2.00,0a1.00,1.00 0 1 0 -2.00,0zM342.33,229.45a1.00,1.00 0 1 0 2.00,0a1.00,1.00 0 1 0 -2.00,0zM336.52,231.38a1.00,1.00 0 1 0 2.00,0a1.00,1.00 0 1 0 -2.00,0zM344.26,231.38a1.00,1.00 0 1 0 2.00,0a1.00,1.00 0 1 0 -2.00,0zM338.45,233.32a1.00,1.00 0 1 0 2.00,0a1.00,1.00 0 1 0 -2.00,0zM346.20,233.32a1.00,1.00 0 1 0 2.00,0a1.00,1.00 0 1 0 -2.00,0zM340.39,235.25a1.00,1.00 0 1 0 2.00,0a1.00,1.00 0 1 0 -2.00,0zM348.13,235.25a1.00,1.00 0 1 0 2.00,0a1.00,1.00 0 1 0 -2.00,0zM342.33,237.19a1.00,1.00 0 1 0 2.00,0a1.00,1.00 0 1 0 -2.00,0zM336.52,239.13a1.00,1.00 0 1 0 2.00,0a1.00,1.00 0 1 0 -2.00,0zM344.26,239.13a1.00,1.00 0 1 0 2.00,0a1.00,1.00 0 1 0 -2.00,0zM338.45,241.06a1.00,1.00 0 1 0 2.00,0a1.00,1.00 0 1 0 -2.00,0zM346.20,241.06a1.00,1.00 0 1 0 2.00,0a1.00,1.00 0 1 0 -2.00,0zM340.39,243.00a1.00,1.00 0 1 0 2.00,0a1.00,1.00 0 1 0 -2.00,0zM348.13,243.00a1.00,1.00 0 1 0 2.00,0a1.00,1.00 0 1 0 -2.00,0zM342.33,244.94a1.00,1.00 0 1 0 2.00,0a1.00,1.00 0 1 0 -2.00,0zM336.52,246.87a1.00,1.00 0 1 0 2.00,0a1.00,1.00 0 1 0 -2.00,0zM344.26,246.87a1.00,1.00 0 1 0 2.00,0a1.00,1.00 0 1 0 -2.00,0zM338.45,248.81a1.00,1.00 0 1 0 2.00,0a1.00,1.00 0 1 0 -2.00,0zM346.20,248.81a1.00,1.00 0 1 0 2.00,0a1.00,1.00 0 1 0 -2.00,0zM340.39,250.74a1.00,1.00 0 1 0 2.00,0a1.00,1.00 0 1 0 -2.00,0zM348.13,250.74a1.00,1.00 0 1 0 2.00,0a1.00,1.00 0 1 0 -2.00,0zM342.33,252.68a1.00,1.00 0 1 0 2.00,0a1.00,1.00 0 1 0 -2.00,0zM336.52,254.62a1.00,1.00 0 1 0 2.00,0a1.00,1.00 0 1 0 -2.00,0zM344.26,254.62a1.00,1.00 0 1 0 2.00,0a1.00,1.00 0 1 0 -2.00,0zM338.45,256.55a1.00,1.00 0 1 0 2.00,0a1.00,1.00 0 1 0 -2.00,0zM346.20,256.55a1.00,1.00 0 1 0 2.00,0a1.00,1.00 0 1 0 -2.00,0zM340.39,258.49a1.00,1.00 0 1 0 2.00,0a1.00,1.00 0 1 0 -2.00,0zM348.13,258.49a1.00,1.00 0 1 0 2.00,0a1.00,1.00 0 1 0 -2.00,0zM342.33,260.43a1.00,1.00 0 1 0 2.00,0a1.00,1.00 0 1 0 -2.00,0zM336.52,262.36a1.00,1.00 0 1 0 2.00,0a1.00,1.00 0 1 0 -2.00,0zM344.26,262.36a1.00,1.00 0 1 0 2.00,0a1.00,1.00 0 1 0 -2.00,0zM338.45,264.30a1.00,1.00 0 1 0 2.00,0a1.00,1.00 0 1 0 -2.00,0zM346.20,264.30a1.00,1.00 0 1 0 2.00,0a1.00,1.00 0 1 0 -2.00,0zM340.39,266.23a1.00,1.00 0 1 0 2.00,0a1.00,1.00 0 1 0 -2.00,0zM348.13,266.23a1.00,1.00 0 1 0 2.00,0a1.00,1.00 0 1 0 -2.00,0zM342.33,268.17a1.00,1.00 0 1 0 2.00,0a1.00,1.00 0 1 0 -2.00,0zM336.52,270.11a1.00,1.00 0 1 0 2.00,0a1.00,1.00 0 1 0 -2.00,0zM344.26,270.11a1.00,1.00 0 1 0 2.00,0a1.00,1.00 0 1 0 -2.00,0zM338.45,272.04a1.00,1.00 0 1 0 2.00,0a1.00,1.00 0 1 0 -2.00,0zM346.20,272.04a1.00,1.00 0 1 0 2.00,0a1.00,1.00 0 1 0 -2.00,0zM340.39,273.98a1.00,1.00 0 1 0 2.00,0a1.00,1.00 0 1 0 -2.00,0zM348.13,273.98a1.00,1.00 0 1 0 2.00,0a1.00,1.00 0 1 0 -2.00,0zM342.33,275.92a1.00,1.00 0 1 0 2.00,0a1.00,1.00 0 1 0 -2.00,0zM336.52,277.85a1.00,1.00 0 1 0 2.00,0a1.00,1.00 0 1 0 -2.00,0zM344.26,277.85a1.00,1.00 0 1 0 2.00,0a1.00,1.00 0 1 0 -2.00,0zM338.45,279.79a1.00,1.00 0 1 0 2.00,0a1.00,1.00 0 1 0 -2.00,0zM346.20,279.79a1.00,1.00 0 1 0 2.00,0a1.00,1.00 0 1 0 -2.00,0zM340.39,281.72a1.00,1.00 0 1 0 2.00,0a1.00,1.00 0 1 0 -2.00,0zM348.13,281.72a1.00,1.00 0 1 0 2.00,0a1.00,1.00 0 1 0 -2.00,0zM342.33,283.66a1.00,1.00 0 1 0 2.00,0a1.00,1.00 0 1 0 -2.00,0zM336.52,285.60a1.00,1.00 0 1 0 2.00,0a1.00,1.00 0 1 0 -2.00,0zM344.26,285.60a1.00,1.00 0 1 0 2.00,0a1.00,1.00 0 1 0 -2.00,0zM338.45,287.53a1.00,1.00 0 1 0 2.00,0a1.00,1.00 0 1 0 -2.00,0zM346.20,287.53a1.00,1.00 0 1 0 2.00,0a1.00,1.00 0 1 0 -2.00,0zM340.39,289.47a1.00,1.00 0 1 0 2.00,0a1.00,1.00 0 1 0 -2.00,0zM348.13,289.47a1.00,1.00 0 1 0 2.00,0a1.00,1.00 0 1 0 -2.00,0zM342.33,291.41a1.00,1.00 0 1 0 2.00,0a1.00,1.00 0 1 0 -2.00,0zM336.52,293.34a1.00,1.00 0 1 0 2.00,0a1.00,1.00 0 1 0 -2.00,0zM344.26,293.34a1.00,1.00 0 1 0 2.00,0a1.00,1.00 0 1 0 -2.00,0zM338.45,295.28a1.00,1.00 0 1 0 2.00,0a1.00,1.00 0 1 0 -2.00,0zM346.20,295.28a1.00,1.00 0 1 0 2.00,0a1.00,1.00 0 1 0 -2.00,0zM340.39,297.21a1.00,1.00 0 1 0 2.00,0a1.00,1.00 0 1 0 -2.00,0zM348.13,297.21a1.00,1.00 0 1 0 2.00,0a1.00,1.00 0 1 0 -2.00,0zM342.33,299.15a1.00,1.00 0 1 0 2.00,0a1.00,1.00 0 1 0 -2.00,0zM336.52,301.09a1.00,1.00 0 1 0 2.00,0a1.00,1.00 0 1 0 -2.00,0zM344.26,301.09a1.00,1.00 0 1 0 2.00,0a1.00,1.00 0 1 0 -2.00,0zM338.45,303.02a1.00,1.00 0 1 0 2.00,0a1.00,1.00 0 1 0 -2.00,0zM346.20,303.02a1.00,1.00 0 1 0 2.00,0a1.00,1.00 0 1 0 -2.00,0zM340.39,304.96a1.00,1.00 0 1 0 2.00,0a1.00,1.00 0 1 0 -2.00,0zM348.13,304.96a1.00,1.00 0 1 0 2.00,0a1.00,1.00 0 1 0 -2.00,0zM342.33,306.90a1.00,1.00 0 1 0 2.00,0a1.00,1.00 0 1 0 -2.00,0zM336.52,308.83a1.00,1.00 0 1 0 2.00,0a1.00,1.00 0 1 0 -2.00,0zM344.26,308.83a1.00,1.00 0 1 0 2.00,0a1.00,1.00 0 1 0 -2.00,0zM338.45,310.77a1.00,1.00 0 1 0 2.00,0a1.00,1.00 0 1 0 -2.00,0zM346.20,310.77a1.00,1.00 0 1 0 2.00,0a1.00,1.00 0 1 0 -2.00,0zM340.39,312.70a1.00,1.00 0 1 0 2.00,0a1.00,1.00 0 1 0 -2.00,0zM348.13,312.70a1.00,1.00 0 1 0 2.00,0a1.00,1.00 0 1 0 -2.00,0zM342.33,314.64a1.00,1.00 0 1 0 2.00,0a1.00,1.00 0 1 0 -2.00,0z"/><path fill="none" stroke="#000" stroke-opacity="0.72" stroke-width="1.1" d="M138.15,124.95L329.80,316.60M145.89,124.95L337.54,316.60M153.63,124.95L345.29,316.60M161.38,124.95L353.03,316.60M169.12,124.95L360.78,316.60M176.87,124.95L368.52,316.60M184.62,124.95L376.27,316.60M192.36,124.95L384.01,316.60M200.11,124.95L391.75,316.60M207.85,124.95L399.50,316.60M215.60,124.95L407.25,316.60M223.34,124.95L414.99,316.60M231.09,124.95L422.74,316.60M238.83,124.95L430.48,316.60M246.57,124.95L438.23,316.60M254.32,124.95L445.97,316.60M262.06,124.95L453.72,316.60M269.81,124.95L461.46,316.60M277.56,124.95L469.21,316.60M285.30,124.95L476.95,316.60M293.05,124.95L484.70,316.60M300.79,124.95L492.44,316.60M308.53,124.95L500.19,316.60M316.28,124.95L507.93,316.60M324.02,124.95L515.67,316.60M331.77,124.95L523.42,316.60M339.51,124.95L531.16,316.60M347.26,124.95L538.91,316.60M355.00,124.95L546.65,316.60M362.75,124.95L554.40,316.60"/></g>
<rect x="336.50" y="126.50" width="14.00" height="188.10" fill="none" stroke="#41598c" stroke-width="0.9"/>
<path d="M326.50,226.50 V247.09 M320.70,226.50 h11.6" stroke="#555" stroke-width="1" fill="none"/>
<path d="M326.50,247.09 V267.50 M320.70,267.50 h11.6" stroke="#5a5a5a" stroke-width="1" fill="none"/>
<path d="M344.50,104.50 V126.05 M338.70,104.50 h11.6" stroke="#555" stroke-width="1" fill="none"/>
<path d="M344.50,126.05 V147.50 M338.70,147.50 h11.6" stroke="#8c8c8c" stroke-width="1" fill="none"/>
<rect x="382.05" y="250.74" width="14.70" height="63.86" fill="#000"/>
<clipPath id="c5"><rect x="400.95" y="117.95" width="13.10" height="196.65"/></clipPath><g clip-path="url(#c5)"><path fill="#000" d="M400.41,117.14a1.00,1.00 0 1 0 2.00,0a1.00,1.00 0 1 0 -2.00,0zM408.16,117.14a1.00,1.00 0 1 0 2.00,0a1.00,1.00 0 1 0 -2.00,0zM402.35,119.08a1.00,1.00 0 1 0 2.00,0a1.00,1.00 0 1 0 -2.00,0zM410.09,119.08a1.00,1.00 0 1 0 2.00,0a1.00,1.00 0 1 0 -2.00,0zM404.29,121.02a1.00,1.00 0 1 0 2.00,0a1.00,1.00 0 1 0 -2.00,0zM412.03,121.02a1.00,1.00 0 1 0 2.00,0a1.00,1.00 0 1 0 -2.00,0zM406.22,122.95a1.00,1.00 0 1 0 2.00,0a1.00,1.00 0 1 0 -2.00,0zM413.97,122.95a1.00,1.00 0 1 0 2.00,0a1.00,1.00 0 1 0 -2.00,0zM400.41,124.89a1.00,1.00 0 1 0 2.00,0a1.00,1.00 0 1 0 -2.00,0zM408.16,124.89a1.00,1.00 0 1 0 2.00,0a1.00,1.00 0 1 0 -2.00,0zM402.35,126.82a1.00,1.00 0 1 0 2.00,0a1.00,1.00 0 1 0 -2.00,0zM410.09,126.82a1.00,1.00 0 1 0 2.00,0a1.00,1.00 0 1 0 -2.00,0zM404.29,128.76a1.00,1.00 0 1 0 2.00,0a1.00,1.00 0 1 0 -2.00,0zM412.03,128.76a1.00,1.00 0 1 0 2.00,0a1.00,1.00 0 1 0 -2.00,0zM406.22,130.70a1.00,1.00 0 1 0 2.00,0a1.00,1.00 0 1 0 -2.00,0zM413.97,130.70a1.00,1.00 0 1 0 2.00,0a1.00,1.00 0 1 0 -2.00,0zM400.41,132.63a1.00,1.00 0 1 0 2.00,0a1.00,1.00 0 1 0 -2.00,0zM408.16,132.63a1.00,1.00 0 1 0 2.00,0a1.00,1.00 0 1 0 -2.00,0zM402.35,134.57a1.00,1.00 0 1 0 2.00,0a1.00,1.00 0 1 0 -2.00,0zM410.09,134.57a1.00,1.00 0 1 0 2.00,0a1.00,1.00 0 1 0 -2.00,0zM404.29,136.51a1.00,1.00 0 1 0 2.00,0a1.00,1.00 0 1 0 -2.00,0zM412.03,136.51a1.00,1.00 0 1 0 2.00,0a1.00,1.00 0 1 0 -2.00,0zM406.22,138.44a1.00,1.00 0 1 0 2.00,0a1.00,1.00 0 1 0 -2.00,0zM413.97,138.44a1.00,1.00 0 1 0 2.00,0a1.00,1.00 0 1 0 -2.00,0zM400.41,140.38a1.00,1.00 0 1 0 2.00,0a1.00,1.00 0 1 0 -2.00,0zM408.16,140.38a1.00,1.00 0 1 0 2.00,0a1.00,1.00 0 1 0 -2.00,0zM402.35,142.31a1.00,1.00 0 1 0 2.00,0a1.00,1.00 0 1 0 -2.00,0zM410.09,142.31a1.00,1.00 0 1 0 2.00,0a1.00,1.00 0 1 0 -2.00,0zM404.29,144.25a1.00,1.00 0 1 0 2.00,0a1.00,1.00 0 1 0 -2.00,0zM412.03,144.25a1.00,1.00 0 1 0 2.00,0a1.00,1.00 0 1 0 -2.00,0zM406.22,146.19a1.00,1.00 0 1 0 2.00,0a1.00,1.00 0 1 0 -2.00,0zM413.97,146.19a1.00,1.00 0 1 0 2.00,0a1.00,1.00 0 1 0 -2.00,0zM400.41,148.12a1.00,1.00 0 1 0 2.00,0a1.00,1.00 0 1 0 -2.00,0zM408.16,148.12a1.00,1.00 0 1 0 2.00,0a1.00,1.00 0 1 0 -2.00,0zM402.35,150.06a1.00,1.00 0 1 0 2.00,0a1.00,1.00 0 1 0 -2.00,0zM410.09,150.06a1.00,1.00 0 1 0 2.00,0a1.00,1.00 0 1 0 -2.00,0zM404.29,152.00a1.00,1.00 0 1 0 2.00,0a1.00,1.00 0 1 0 -2.00,0zM412.03,152.00a1.00,1.00 0 1 0 2.00,0a1.00,1.00 0 1 0 -2.00,0zM406.22,153.93a1.00,1.00 0 1 0 2.00,0a1.00,1.00 0 1 0 -2.00,0zM413.97,153.93a1.00,1.00 0 1 0 2.00,0a1.00,1.00 0 1 0 -2.00,0zM400.41,155.87a1.00,1.00 0 1 0 2.00,0a1.00,1.00 0 1 0 -2.00,0zM408.16,155.87a1.00,1.00 0 1 0 2.00,0a1.00,1.00 0 1 0 -2.00,0zM402.35,157.80a1.00,1.00 0 1 0 2.00,0a1.00,1.00 0 1 0 -2.00,0zM410.09,157.80a1.00,1.00 0 1 0 2.00,0a1.00,1.00 0 1 0 -2.00,0zM404.29,159.74a1.00,1.00 0 1 0 2.00,0a1.00,1.00 0 1 0 -2.00,0zM412.03,159.74a1.00,1.00 0 1 0 2.00,0a1.00,1.00 0 1 0 -2.00,0zM406.22,161.68a1.00,1.00 0 1 0 2.00,0a1.00,1.00 0 1 0 -2.00,0zM413.97,161.68a1.00,1.00 0 1 0 2.00,0a1.00,1.00 0 1 0 -2.00,0zM400.41,163.61a1.00,1.00 0 1 0 2.00,0a1.00,1.00 0 1 0 -2.00,0zM408.16,163.61a1.00,1.00 0 1 0 2.00,0a1.00,1.00 0 1 0 -2.00,0zM402.35,165.55a1.00,1.00 0 1 0 2.00,0a1.00,1.00 0 1 0 -2.00,0zM410.09,165.55a1.00,1.00 0 1 0 2.00,0a1.00,1.00 0 1 0 -2.00,0zM404.29,167.49a1.00,1.00 0 1 0 2.00,0a1.00,1.00 0 1 0 -2.00,0zM412.03,167.49a1.00,1.00 0 1 0 2.00,0a1.00,1.00 0 1 0 -2.00,0zM406.22,169.42a1.00,1.00 0 1 0 2.00,0a1.00,1.00 0 1 0 -2.00,0zM413.97,169.42a1.00,1.00 0 1 0 2.00,0a1.00,1.00 0 1 0 -2.00,0zM400.41,171.36a1.00,1.00 0 1 0 2.00,0a1.00,1.00 0 1 0 -2.00,0zM408.16,171.36a1.00,1.00 0 1 0 2.00,0a1.00,1.00 0 1 0 -2.00,0zM402.35,173.29a1.00,1.00 0 1 0 2.00,0a1.00,1.00 0 1 0 -2.00,0zM410.09,173.29a1.00,1.00 0 1 0 2.00,0a1.00,1.00 0 1 0 -2.00,0zM404.29,175.23a1.00,1.00 0 1 0 2.00,0a1.00,1.00 0 1 0 -2.00,0zM412.03,175.23a1.00,1.00 0 1 0 2.00,0a1.00,1.00 0 1 0 -2.00,0zM406.22,177.17a1.00,1.00 0 1 0 2.00,0a1.00,1.00 0 1 0 -2.00,0zM413.97,177.17a1.00,1.00 0 1 0 2.00,0a1.00,1.00 0 1 0 -2.00,0zM400.41,179.10a1.00,1.00 0 1 0 2.00,0a1.00,1.00 0 1 0 -2.00,0zM408.16,179.10a1.00,1.00 0 1 0 2.00,0a1.00,1.00 0 1 0 -2.00,0zM402.35,181.04a1.00,1.00 0 1 0 2.00,0a1.00,1.00 0 1 0 -2.00,0zM410.09,181.04a1.00,1.00 0 1 0 2.00,0a1.00,1.00 0 1 0 -2.00,0zM404.29,182.98a1.00,1.00 0 1 0 2.00,0a1.00,1.00 0 1 0 -2.00,0zM412.03,182.98a1.00,1.00 0 1 0 2.00,0a1.00,1.00 0 1 0 -2.00,0zM406.22,184.91a1.00,1.00 0 1 0 2.00,0a1.00,1.00 0 1 0 -2.00,0zM413.97,184.91a1.00,1.00 0 1 0 2.00,0a1.00,1.00 0 1 0 -2.00,0zM400.41,186.85a1.00,1.00 0 1 0 2.00,0a1.00,1.00 0 1 0 -2.00,0zM408.16,186.85a1.00,1.00 0 1 0 2.00,0a1.00,1.00 0 1 0 -2.00,0zM402.35,188.78a1.00,1.00 0 1 0 2.00,0a1.00,1.00 0 1 0 -2.00,0zM410.09,188.78a1.00,1.00 0 1 0 2.00,0a1.00,1.00 0 1 0 -2.00,0zM404.29,190.72a1.00,1.00 0 1 0 2.00,0a1.00,1.00 0 1 0 -2.00,0zM412.03,190.72a1.00,1.00 0 1 0 2.00,0a1.00,1.00 0 1 0 -2.00,0zM406.22,192.66a1.00,1.00 0 1 0 2.00,0a1.00,1.00 0 1 0 -2.00,0zM413.97,192.66a1.00,1.00 0 1 0 2.00,0a1.00,1.00 0 1 0 -2.00,0zM400.41,194.59a1.00,1.00 0 1 0 2.00,0a1.00,1.00 0 1 0 -2.00,0zM408.16,194.59a1.00,1.00 0 1 0 2.00,0a1.00,1.00 0 1 0 -2.00,0zM402.35,196.53a1.00,1.00 0 1 0 2.00,0a1.00,1.00 0 1 0 -2.00,0zM410.09,196.53a1.00,1.00 0 1 0 2.00,0a1.00,1.00 0 1 0 -2.00,0zM404.29,198.47a1.00,1.00 0 1 0 2.00,0a1.00,1.00 0 1 0 -2.00,0zM412.03,198.47a1.00,1.00 0 1 0 2.00,0a1.00,1.00 0 1 0 -2.00,0zM406.22,200.40a1.00,1.00 0 1 0 2.00,0a1.00,1.00 0 1 0 -2.00,0zM413.97,200.40a1.00,1.00 0 1 0 2.00,0a1.00,1.00 0 1 0 -2.00,0zM400.41,202.34a1.00,1.00 0 1 0 2.00,0a1.00,1.00 0 1 0 -2.00,0zM408.16,202.34a1.00,1.00 0 1 0 2.00,0a1.00,1.00 0 1 0 -2.00,0zM402.35,204.27a1.00,1.00 0 1 0 2.00,0a1.00,1.00 0 1 0 -2.00,0zM410.09,204.27a1.00,1.00 0 1 0 2.00,0a1.00,1.00 0 1 0 -2.00,0zM404.29,206.21a1.00,1.00 0 1 0 2.00,0a1.00,1.00 0 1 0 -2.00,0zM412.03,206.21a1.00,1.00 0 1 0 2.00,0a1.00,1.00 0 1 0 -2.00,0zM406.22,208.15a1.00,1.00 0 1 0 2.00,0a1.00,1.00 0 1 0 -2.00,0zM413.97,208.15a1.00,1.00 0 1 0 2.00,0a1.00,1.00 0 1 0 -2.00,0zM400.41,210.08a1.00,1.00 0 1 0 2.00,0a1.00,1.00 0 1 0 -2.00,0zM408.16,210.08a1.00,1.00 0 1 0 2.00,0a1.00,1.00 0 1 0 -2.00,0zM402.35,212.02a1.00,1.00 0 1 0 2.00,0a1.00,1.00 0 1 0 -2.00,0zM410.09,212.02a1.00,1.00 0 1 0 2.00,0a1.00,1.00 0 1 0 -2.00,0zM404.29,213.96a1.00,1.00 0 1 0 2.00,0a1.00,1.00 0 1 0 -2.00,0zM412.03,213.96a1.00,1.00 0 1 0 2.00,0a1.00,1.00 0 1 0 -2.00,0zM406.22,215.89a1.00,1.00 0 1 0 2.00,0a1.00,1.00 0 1 0 -2.00,0zM413.97,215.89a1.00,1.00 0 1 0 2.00,0a1.00,1.00 0 1 0 -2.00,0zM400.41,217.83a1.00,1.00 0 1 0 2.00,0a1.00,1.00 0 1 0 -2.00,0zM408.16,217.83a1.00,1.00 0 1 0 2.00,0a1.00,1.00 0 1 0 -2.00,0zM402.35,219.76a1.00,1.00 0 1 0 2.00,0a1.00,1.00 0 1 0 -2.00,0zM410.09,219.76a1.00,1.00 0 1 0 2.00,0a1.00,1.00 0 1 0 -2.00,0zM404.29,221.70a1.00,1.00 0 1 0 2.00,0a1.00,1.00 0 1 0 -2.00,0zM412.03,221.70a1.00,1.00 0 1 0 2.00,0a1.00,1.00 0 1 0 -2.00,0zM406.22,223.64a1.00,1.00 0 1 0 2.00,0a1.00,1.00 0 1 0 -2.00,0zM413.97,223.64a1.00,1.00 0 1 0 2.00,0a1.00,1.00 0 1 0 -2.00,0zM400.41,225.57a1.00,1.00 0 1 0 2.00,0a1.00,1.00 0 1 0 -2.00,0zM408.16,225.57a1.00,1.00 0 1 0 2.00,0a1.00,1.00 0 1 0 -2.00,0zM402.35,227.51a1.00,1.00 0 1 0 2.00,0a1.00,1.00 0 1 0 -2.00,0zM410.09,227.51a1.00,1.00 0 1 0 2.00,0a1.00,1.00 0 1 0 -2.00,0zM404.29,229.45a1.00,1.00 0 1 0 2.00,0a1.00,1.00 0 1 0 -2.00,0zM412.03,229.45a1.00,1.00 0 1 0 2.00,0a1.00,1.00 0 1 0 -2.00,0zM406.22,231.38a1.00,1.00 0 1 0 2.00,0a1.00,1.00 0 1 0 -2.00,0zM413.97,231.38a1.00,1.00 0 1 0 2.00,0a1.00,1.00 0 1 0 -2.00,0zM400.41,233.32a1.00,1.00 0 1 0 2.00,0a1.00,1.00 0 1 0 -2.00,0zM408.16,233.32a1.00,1.00 0 1 0 2.00,0a1.00,1.00 0 1 0 -2.00,0zM402.35,235.25a1.00,1.00 0 1 0 2.00,0a1.00,1.00 0 1 0 -2.00,0zM410.09,235.25a1.00,1.00 0 1 0 2.00,0a1.00,1.00 0 1 0 -2.00,0zM404.29,237.19a1.00,1.00 0 1 0 2.00,0a1.00,1.00 0 1 0 -2.00,0zM412.03,237.19a1.00,1.00 0 1 0 2.00,0a1.00,1.00 0 1 0 -2.00,0zM406.22,239.13a1.00,1.00 0 1 0 2.00,0a1.00,1.00 0 1 0 -2.00,0zM413.97,239.13a1.00,1.00 0 1 0 2.00,0a1.00,1.00 0 1 0 -2.00,0zM400.41,241.06a1.00,1.00 0 1 0 2.00,0a1.00,1.00 0 1 0 -2.00,0zM408.16,241.06a1.00,1.00 0 1 0 2.00,0a1.00,1.00 0 1 0 -2.00,0zM402.35,243.00a1.00,1.00 0 1 0 2.00,0a1.00,1.00 0 1 0 -2.00,0zM410.09,243.00a1.00,1.00 0 1 0 2.00,0a1.00,1.00 0 1 0 -2.00,0zM404.29,244.94a1.00,1.00 0 1 0 2.00,0a1.00,1.00 0 1 0 -2.00,0zM412.03,244.94a1.00,1.00 0 1 0 2.00,0a1.00,1.00 0 1 0 -2.00,0zM406.22,246.87a1.00,1.00 0 1 0 2.00,0a1.00,1.00 0 1 0 -2.00,0zM413.97,246.87a1.00,1.00 0 1 0 2.00,0a1.00,1.00 0 1 0 -2.00,0zM400.41,248.81a1.00,1.00 0 1 0 2.00,0a1.00,1.00 0 1 0 -2.00,0zM408.16,248.81a1.00,1.00 0 1 0 2.00,0a1.00,1.00 0 1 0 -2.00,0zM402.35,250.74a1.00,1.00 0 1 0 2.00,0a1.00,1.00 0 1 0 -2.00,0zM410.09,250.74a1.00,1.00 0 1 0 2.00,0a1.00,1.00 0 1 0 -2.00,0zM404.29,252.68a1.00,1.00 0 1 0 2.00,0a1.00,1.00 0 1 0 -2.00,0zM412.03,252.68a1.00,1.00 0 1 0 2.00,0a1.00,1.00 0 1 0 -2.00,0zM406.22,254.62a1.00,1.00 0 1 0 2.00,0a1.00,1.00 0 1 0 -2.00,0zM413.97,254.62a1.00,1.00 0 1 0 2.00,0a1.00,1.00 0 1 0 -2.00,0zM400.41,256.55a1.00,1.00 0 1 0 2.00,0a1.00,1.00 0 1 0 -2.00,0zM408.16,256.55a1.00,1.00 0 1 0 2.00,0a1.00,1.00 0 1 0 -2.00,0zM402.35,258.49a1.00,1.00 0 1 0 2.00,0a1.00,1.00 0 1 0 -2.00,0zM410.09,258.49a1.00,1.00 0 1 0 2.00,0a1.00,1.00 0 1 0 -2.00,0zM404.29,260.43a1.00,1.00 0 1 0 2.00,0a1.00,1.00 0 1 0 -2.00,0zM412.03,260.43a1.00,1.00 0 1 0 2.00,0a1.00,1.00 0 1 0 -2.00,0zM406.22,262.36a1.00,1.00 0 1 0 2.00,0a1.00,1.00 0 1 0 -2.00,0zM413.97,262.36a1.00,1.00 0 1 0 2.00,0a1.00,1.00 0 1 0 -2.00,0zM400.41,264.30a1.00,1.00 0 1 0 2.00,0a1.00,1.00 0 1 0 -2.00,0zM408.16,264.30a1.00,1.00 0 1 0 2.00,0a1.00,1.00 0 1 0 -2.00,0zM402.35,266.23a1.00,1.00 0 1 0 2.00,0a1.00,1.00 0 1 0 -2.00,0zM410.09,266.23a1.00,1.00 0 1 0 2.00,0a1.00,1.00 0 1 0 -2.00,0zM404.29,268.17a1.00,1.00 0 1 0 2.00,0a1.00,1.00 0 1 0 -2.00,0zM412.03,268.17a1.00,1.00 0 1 0 2.00,0a1.00,1.00 0 1 0 -2.00,0zM406.22,270.11a1.00,1.00 0 1 0 2.00,0a1.00,1.00 0 1 0 -2.00,0zM413.97,270.11a1.00,1.00 0 1 0 2.00,0a1.00,1.00 0 1 0 -2.00,0zM400.41,272.04a1.00,1.00 0 1 0 2.00,0a1.00,1.00 0 1 0 -2.00,0zM408.16,272.04a1.00,1.00 0 1 0 2.00,0a1.00,1.00 0 1 0 -2.00,0zM402.35,273.98a1.00,1.00 0 1 0 2.00,0a1.00,1.00 0 1 0 -2.00,0zM410.09,273.98a1.00,1.00 0 1 0 2.00,0a1.00,1.00 0 1 0 -2.00,0zM404.29,275.92a1.00,1.00 0 1 0 2.00,0a1.00,1.00 0 1 0 -2.00,0zM412.03,275.92a1.00,1.00 0 1 0 2.00,0a1.00,1.00 0 1 0 -2.00,0zM406.22,277.85a1.00,1.00 0 1 0 2.00,0a1.00,1.00 0 1 0 -2.00,0zM413.97,277.85a1.00,1.00 0 1 0 2.00,0a1.00,1.00 0 1 0 -2.00,0zM400.41,279.79a1.00,1.00 0 1 0 2.00,0a1.00,1.00 0 1 0 -2.00,0zM408.16,279.79a1.00,1.00 0 1 0 2.00,0a1.00,1.00 0 1 0 -2.00,0zM402.35,281.72a1.00,1.00 0 1 0 2.00,0a1.00,1.00 0 1 0 -2.00,0zM410.09,281.72a1.00,1.00 0 1 0 2.00,0a1.00,1.00 0 1 0 -2.00,0zM404.29,283.66a1.00,1.00 0 1 0 2.00,0a1.00,1.00 0 1 0 -2.00,0zM412.03,283.66a1.00,1.00 0 1 0 2.00,0a1.00,1.00 0 1 0 -2.00,0zM406.22,285.60a1.00,1.00 0 1 0 2.00,0a1.00,1.00 0 1 0 -2.00,0zM413.97,285.60a1.00,1.00 0 1 0 2.00,0a1.00,1.00 0 1 0 -2.00,0zM400.41,287.53a1.00,1.00 0 1 0 2.00,0a1.00,1.00 0 1 0 -2.00,0zM408.16,287.53a1.00,1.00 0 1 0 2.00,0a1.00,1.00 0 1 0 -2.00,0zM402.35,289.47a1.00,1.00 0 1 0 2.00,0a1.00,1.00 0 1 0 -2.00,0zM410.09,289.47a1.00,1.00 0 1 0 2.00,0a1.00,1.00 0 1 0 -2.00,0zM404.29,291.41a1.00,1.00 0 1 0 2.00,0a1.00,1.00 0 1 0 -2.00,0zM412.03,291.41a1.00,1.00 0 1 0 2.00,0a1.00,1.00 0 1 0 -2.00,0zM406.22,293.34a1.00,1.00 0 1 0 2.00,0a1.00,1.00 0 1 0 -2.00,0zM413.97,293.34a1.00,1.00 0 1 0 2.00,0a1.00,1.00 0 1 0 -2.00,0zM400.41,295.28a1.00,1.00 0 1 0 2.00,0a1.00,1.00 0 1 0 -2.00,0zM408.16,295.28a1.00,1.00 0 1 0 2.00,0a1.00,1.00 0 1 0 -2.00,0zM402.35,297.21a1.00,1.00 0 1 0 2.00,0a1.00,1.00 0 1 0 -2.00,0zM410.09,297.21a1.00,1.00 0 1 0 2.00,0a1.00,1.00 0 1 0 -2.00,0zM404.29,299.15a1.00,1.00 0 1 0 2.00,0a1.00,1.00 0 1 0 -2.00,0zM412.03,299.15a1.00,1.00 0 1 0 2.00,0a1.00,1.00 0 1 0 -2.00,0zM406.22,301.09a1.00,1.00 0 1 0 2.00,0a1.00,1.00 0 1 0 -2.00,0zM413.97,301.09a1.00,1.00 0 1 0 2.00,0a1.00,1.00 0 1 0 -2.00,0zM400.41,303.02a1.00,1.00 0 1 0 2.00,0a1.00,1.00 0 1 0 -2.00,0zM408.16,303.02a1.00,1.00 0 1 0 2.00,0a1.00,1.00 0 1 0 -2.00,0zM402.35,304.96a1.00,1.00 0 1 0 2.00,0a1.00,1.00 0 1 0 -2.00,0zM410.09,304.96a1.00,1.00 0 1 0 2.00,0a1.00,1.00 0 1 0 -2.00,0zM404.29,306.90a1.00,1.00 0 1 0 2.00,0a1.00,1.00 0 1 0 -2.00,0zM412.03,306.90a1.00,1.00 0 1 0 2.00,0a1.00,1.00 0 1 0 -2.00,0zM406.22,308.83a1.00,1.00 0 1 0 2.00,0a1.00,1.00 0 1 0 -2.00,0zM413.97,308.83a1.00,1.00 0 1 0 2.00,0a1.00,1.00 0 1 0 -2.00,0zM400.41,310.77a1.00,1.00 0 1 0 2.00,0a1.00,1.00 0 1 0 -2.00,0zM408.16,310.77a1.00,1.00 0 1 0 2.00,0a1.00,1.00 0 1 0 -2.00,0zM402.35,312.70a1.00,1.00 0 1 0 2.00,0a1.00,1.00 0 1 0 -2.00,0zM410.09,312.70a1.00,1.00 0 1 0 2.00,0a1.00,1.00 0 1 0 -2.00,0zM404.29,314.64a1.00,1.00 0 1 0 2.00,0a1.00,1.00 0 1 0 -2.00,0zM412.03,314.64a1.00,1.00 0 1 0 2.00,0a1.00,1.00 0 1 0 -2.00,0z"/><path fill="none" stroke="#000" stroke-opacity="0.72" stroke-width="1.1" d="M191.11,115.95L391.75,316.60M198.85,115.95L399.50,316.60M206.60,115.95L407.25,316.60M214.34,115.95L414.99,316.60M222.09,115.95L422.74,316.60M229.83,115.95L430.48,316.60M237.57,115.95L438.23,316.60M245.32,115.95L445.97,316.60M253.06,115.95L453.72,316.60M260.81,115.95L461.46,316.60M268.56,115.95L469.21,316.60M276.30,115.95L476.95,316.60M284.05,115.95L484.70,316.60M291.79,115.95L492.44,316.60M299.53,115.95L500.19,316.60M307.28,115.95L507.93,316.60M315.02,115.95L515.67,316.60M322.77,115.95L523.42,316.60M330.51,115.95L531.16,316.60M338.26,115.95L538.91,316.60M346.00,115.95L546.65,316.60M353.75,115.95L554.40,316.60M361.50,115.95L562.14,316.60M369.24,115.95L569.89,316.60M376.99,115.95L577.63,316.60M384.73,115.95L585.38,316.60M392.47,115.95L593.12,316.60M400.22,115.95L600.87,316.60M407.96,115.95L608.62,316.60M415.71,115.95L616.36,316.60M423.45,115.95L624.11,316.60"/></g>
<rect x="400.50" y="117.50" width="14.00" height="197.10" fill="none" stroke="#41598c" stroke-width="0.9"/>
<path d="M389.50,239.50 V250.74 M383.70,239.50 h11.6" stroke="#555" stroke-width="1" fill="none"/>
<path d="M389.50,250.74 V262.50 M383.70,262.50 h11.6" stroke="#5a5a5a" stroke-width="1" fill="none"/>
<path d="M407.50,95.50 V117.38 M401.70,95.50 h11.6" stroke="#555" stroke-width="1" fill="none"/>
<path d="M407.50,117.38 V139.50 M401.70,139.50 h11.6" stroke="#8c8c8c" stroke-width="1" fill="none"/>
<rect x="445.54" y="287.46" width="14.70" height="27.14" fill="#000"/>
<clipPath id="c6"><rect x="463.95" y="191.95" width="13.10" height="122.65"/></clipPath><g clip-path="url(#c6)"><path fill="#000" d="M468.18,192.66a1.00,1.00 0 1 0 2.00,0a1.00,1.00 0 1 0 -2.00,0zM475.93,192.66a1.00,1.00 0 1 0 2.00,0a1.00,1.00 0 1 0 -2.00,0zM462.37,194.59a1.00,1.00 0 1 0 2.00,0a1.00,1.00 0 1 0 -2.00,0zM470.12,194.59a1.00,1.00 0 1 0 2.00,0a1.00,1.00 0 1 0 -2.00,0zM464.31,196.53a1.00,1.00 0 1 0 2.00,0a1.00,1.00 0 1 0 -2.00,0zM472.05,196.53a1.00,1.00 0 1 0 2.00,0a1.00,1.00 0 1 0 -2.00,0zM466.25,198.47a1.00,1.00 0 1 0 2.00,0a1.00,1.00 0 1 0 -2.00,0zM473.99,198.47a1.00,1.00 0 1 0 2.00,0a1.00,1.00 0 1 0 -2.00,0zM468.18,200.40a1.00,1.00 0 1 0 2.00,0a1.00,1.00 0 1 0 -2.00,0zM475.93,200.40a1.00,1.00 0 1 0 2.00,0a1.00,1.00 0 1 0 -2.00,0zM462.37,202.34a1.00,1.00 0 1 0 2.00,0a1.00,1.00 0 1 0 -2.00,0zM470.12,202.34a1.00,1.00 0 1 0 2.00,0a1.00,1.00 0 1 0 -2.00,0zM464.31,204.27a1.00,1.00 0 1 0 2.00,0a1.00,1.00 0 1 0 -2.00,0zM472.05,204.27a1.00,1.00 0 1 0 2.00,0a1.00,1.00 0 1 0 -2.00,0zM466.25,206.21a1.00,1.00 0 1 0 2.00,0a1.00,1.00 0 1 0 -2.00,0zM473.99,206.21a1.00,1.00 0 1 0 2.00,0a1.00,1.00 0 1 0 -2.00,0zM468.18,208.15a1.00,1.00 0 1 0 2.00,0a1.00,1.00 0 1 0 -2.00,0zM475.93,208.15a1.00,1.00 0 1 0 2.00,0a1.00,1.00 0 1 0 -2.00,0zM462.37,210.08a1.00,1.00 0 1 0 2.00,0a1.00,1.00 0 1 0 -2.00,0zM470.12,210.08a1.00,1.00 0 1 0 2.00,0a1.00,1.00 0 1 0 -2.00,0zM464.31,212.02a1.00,1.00 0 1 0 2.00,0a1.00,1.00 0 1 0 -2.00,0zM472.05,212.02a1.00,1.00 0 1 0 2.00,0a1.00,1.00 0 1 0 -2.00,0zM466.25,213.96a1.00,1.00 0 1 0 2.00,0a1.00,1.00 0 1 0 -2.00,0zM473.99,213.96a1.00,1.00 0 1 0 2.00,0a1.00,1.00 0 1 0 -2.00,0zM468.18,215.89a1.00,1.00 0 1 0 2.00,0a1.00,1.00 0 1 0 -2.00,0zM475.93,215.89a1.00,1.00 0 1 0 2.00,0a1.00,1.00 0 1 0 -2.00,0zM462.37,217.83a1.00,1.00 0 1 0 2.00,0a1.00,1.00 0 1 0 -2.00,0zM470.12,217.83a1.00,1.00 0 1 0 2.00,0a1.00,1.00 0 1 0 -2.00,0zM464.31,219.76a1.00,1.00 0 1 0 2.00,0a1.00,1.00 0 1 0 -2.00,0zM472.05,219.76a1.00,1.00 0 1 0 2.00,0a1.00,1.00 0 1 0 -2.00,0zM466.25,221.70a1.00,1.00 0 1 0 2.00,0a1.00,1.00 0 1 0 -2.00,0zM473.99,221.70a1.00,1.00 0 1 0 2.00,0a1.00,1.00 0 1 0 -2.00,0zM468.18,223.64a1.00,1.00 0 1 0 2.00,0a1.00,1.00 0 1 0 -2.00,0zM475.93,223.64a1.00,1.00 0 1 0 2.00,0a1.00,1.00 0 1 0 -2.00,0zM462.37,225.57a1.00,1.00 0 1 0 2.00,0a1.00,1.00 0 1 0 -2.00,0zM470.12,225.57a1.00,1.00 0 1 0 2.00,0a1.00,1.00 0 1 0 -2.00,0zM464.31,227.51a1.00,1.00 0 1 0 2.00,0a1.00,1.00 0 1 0 -2.00,0zM472.05,227.51a1.00,1.00 0 1 0 2.00,0a1.00,1.00 0 1 0 -2.00,0zM466.25,229.45a1.00,1.00 0 1 0 2.00,0a1.00,1.00 0 1 0 -2.00,0zM473.99,229.45a1.00,1.00 0 1 0 2.00,0a1.00,1.00 0 1 0 -2.00,0zM468.18,231.38a1.00,1.00 0 1 0 2.00,0a1.00,1.00 0 1 0 -2.00,0zM475.93,231.38a1.00,1.00 0 1 0 2.00,0a1.00,1.00 0 1 0 -2.00,0zM462.37,233.32a1.00,1.00 0 1 0 2.00,0a1.00,1.00 0 1 0 -2.00,0zM470.12,233.32a1.00,1.00 0 1 0 2.00,0a1.00,1.00 0 1 0 -2.00,0zM464.31,235.25a1.00,1.00 0 1 0 2.00,0a1.00,1.00 0 1 0 -2.00,0zM472.05,235.25a1.00,1.00 0 1 0 2.00,0a1.00,1.00 0 1 0 -2.00,0zM466.25,237.19a1.00,1.00 0 1 0 2.00,0a1.00,1.00 0 1 0 -2.00,0zM473.99,237.19a1.00,1.00 0 1 0 2.00,0a1.00,1.00 0 1 0 -2.00,0zM468.18,239.13a1.00,1.00 0 1 0 2.00,0a1.00,1.00 0 1 0 -2.00,0zM475.93,239.13a1.00,1.00 0 1 0 2.00,0a1.00,1.00 0 1 0 -2.00,0zM462.37,241.06a1.00,1.00 0 1 0 2.00,0a1.00,1.00 0 1 0 -2.00,0zM470.12,241.06a1.00,1.00 0 1 0 2.00,0a1.00,1.00 0 1 0 -2.00,0zM464.31,243.00a1.00,1.00 0 1 0 2.00,0a1.00,1.00 0 1 0 -2.00,0zM472.05,243.00a1.00,1.00 0 1 0 2.00,0a1.00,1.00 0 1 0 -2.00,0zM466.25,244.94a1.00,1.00 0 1 0 2.00,0a1.00,1.00 0 1 0 -2.00,0zM473.99,244.94a1.00,1.00 0 1 0 2.00,0a1.00,1.00 0 1 0 -2.00,0zM468.18,246.87a1.00,1.00 0 1 0 2.00,0a1.00,1.00 0 1 0 -2.00,0zM475.93,246.87a1.00,1.00 0 1 0 2.00,0a1.00,1.00 0 1 0 -2.00,0zM462.37,248.81a1.00,1.00 0 1 0 2.00,0a1.00,1.00 0 1 0 -2.00,0zM470.12,248.81a1.00,1.00 0 1 0 2.00,0a1.00,1.00 0 1 0 -2.00,0zM464.31,250.74a1.00,1.00 0 1 0 2.00,0a1.00,1.00 0 1 0 -2.00,0zM472.05,250.74a1.00,1.00 0 1 0 2.00,0a1.00,1.00 0 1 0 -2.00,0zM466.25,252.68a1.00,1.00 0 1 0 2.00,0a1.00,1.00 0 1 0 -2.00,0zM473.99,252.68a1.00,1.00 0 1 0 2.00,0a1.00,1.00 0 1 0 -2.00,0zM468.18,254.62a1.00,1.00 0 1 0 2.00,0a1.00,1.00 0 1 0 -2.00,0zM475.93,254.62a1.00,1.00 0 1 0 2.00,0a1.00,1.00 0 1 0 -2.00,0zM462.37,256.55a1.00,1.00 0 1 0 2.00,0a1.00,1.00 0 1 0 -2.00,0zM470.12,256.55a1.00,1.00 0 1 0 2.00,0a1.00,1.00 0 1 0 -2.00,0zM464.31,258.49a1.00,1.00 0 1 0 2.00,0a1.00,1.00 0 1 0 -2.00,0zM472.05,258.49a1.00,1.00 0 1 0 2.00,0a1.00,1.00 0 1 0 -2.00,0zM466.25,260.43a1.00,1.00 0 1 0 2.00,0a1.00,1.00 0 1 0 -2.00,0zM473.99,260.43a1.00,1.00 0 1 0 2.00,0a1.00,1.00 0 1 0 -2.00,0zM468.18,262.36a1.00,1.00 0 1 0 2.00,0a1.00,1.00 0 1 0 -2.00,0zM475.93,262.36a1.00,1.00 0 1 0 2.00,0a1.00,1.00 0 1 0 -2.00,0zM462.37,264.30a1.00,1.00 0 1 0 2.00,0a1.00,1.00 0 1 0 -2.00,0zM470.12,264.30a1.00,1.00 0 1 0 2.00,0a1.00,1.00 0 1 0 -2.00,0zM464.31,266.23a1.00,1.00 0 1 0 2.00,0a1.00,1.00 0 1 0 -2.00,0zM472.05,266.23a1.00,1.00 0 1 0 2.00,0a1.00,1.00 0 1 0 -2.00,0zM466.25,268.17a1.00,1.00 0 1 0 2.00,0a1.00,1.00 0 1 0 -2.00,0zM473.99,268.17a1.00,1.00 0 1 0 2.00,0a1.00,1.00 0 1 0 -2.00,0zM468.18,270.11a1.00,1.00 0 1 0 2.00,0a1.00,1.00 0 1 0 -2.00,0zM475.93,270.11a1.00,1.00 0 1 0 2.00,0a1.00,1.00 0 1 0 -2.00,0zM462.37,272.04a1.00,1.00 0 1 0 2.00,0a1.00,1.00 0 1 0 -2.00,0zM470.12,272.04a1.00,1.00 0 1 0 2.00,0a1.00,1.00 0 1 0 -2.00,0zM464.31,273.98a1.00,1.00 0 1 0 2.00,0a1.00,1.00 0 1 0 -2.00,0zM472.05,273.98a1.00,1.00 0 1 0 2.00,0a1.00,1.00 0 1 0 -2.00,0zM466.25,275.92a1.00,1.00 0 1 0 2.00,0a1.00,1.00 0 1 0 -2.00,0zM473.99,275.92a1.00,1.00 0 1 0 2.00,0a1.00,1.00 0 1 0 -2.00,0zM468.18,277.85a1.00,1.00 0 1 0 2.00,0a1.00,1.00 0 1 0 -2.00,0zM475.93,277.85a1.00,1.00 0 1 0 2.00,0a1.00,1.00 0 1 0 -2.00,0zM462.37,279.79a1.00,1.00 0 1 0 2.00,0a1.00,1.00 0 1 0 -2.00,0zM470.12,279.79a1.00,1.00 0 1 0 2.00,0a1.00,1.00 0 1 0 -2.00,0zM464.31,281.72a1.00,1.00 0 1 0 2.00,0a1.00,1.00 0 1 0 -2.00,0zM472.05,281.72a1.00,1.00 0 1 0 2.00,0a1.00,1.00 0 1 0 -2.00,0zM466.25,283.66a1.00,1.00 0 1 0 2.00,0a1.00,1.00 0 1 0 -2.00,0zM473.99,283.66a1.00,1.00 0 1 0 2.00,0a1.00,1.00 0 1 0 -2.00,0zM468.18,285.60a1.00,1.00 0 1 0 2.00,0a1.00,1.00 0 1 0 -2.00,0zM475.93,285.60a1.00,1.00 0 1 0 2.00,0a1.00,1.00 0 1 0 -2.00,0zM462.37,287.53a1.00,1.00 0 1 0 2.00,0a1.00,1.00 0 1 0 -2.00,0zM470.12,287.53a1.00,1.00 0 1 0 2.00,0a1.00,1.00 0 1 0 -2.00,0zM464.31,289.47a1.00,1.00 0 1 0 2.00,0a1.00,1.00 0 1 0 -2.00,0zM472.05,289.47a1.00,1.00 0 1 0 2.00,0a1.00,1.00 0 1 0 -2.00,0zM466.25,291.41a1.00,1.00 0 1 0 2.00,0a1.00,1.00 0 1 0 -2.00,0zM473.99,291.41a1.00,1.00 0 1 0 2.00,0a1.00,1.00 0 1 0 -2.00,0zM468.18,293.34a1.00,1.00 0 1 0 2.00,0a1.00,1.00 0 1 0 -2.00,0zM475.93,293.34a1.00,1.00 0 1 0 2.00,0a1.00,1.00 0 1 0 -2.00,0zM462.37,295.28a1.00,1.00 0 1 0 2.00,0a1.00,1.00 0 1 0 -2.00,0zM470.12,295.28a1.00,1.00 0 1 0 2.00,0a1.00,1.00 0 1 0 -2.00,0zM464.31,297.21a1.00,1.00 0 1 0 2.00,0a1.00,1.00 0 1 0 -2.00,0zM472.05,297.21a1.00,1.00 0 1 0 2.00,0a1.00,1.00 0 1 0 -2.00,0zM466.25,299.15a1.00,1.00 0 1 0 2.00,0a1.00,1.00 0 1 0 -2.00,0zM473.99,299.15a1.00,1.00 0 1 0 2.00,0a1.00,1.00 0 1 0 -2.00,0zM468.18,301.09a1.00,1.00 0 1 0 2.00,0a1.00,1.00 0 1 0 -2.00,0zM475.93,301.09a1.00,1.00 0 1 0 2.00,0a1.00,1.00 0 1 0 -2.00,0zM462.37,303.02a1.00,1.00 0 1 0 2.00,0a1.00,1.00 0 1 0 -2.00,0zM470.12,303.02a1.00,1.00 0 1 0 2.00,0a1.00,1.00 0 1 0 -2.00,0zM464.31,304.96a1.00,1.00 0 1 0 2.00,0a1.00,1.00 0 1 0 -2.00,0zM472.05,304.96a1.00,1.00 0 1 0 2.00,0a1.00,1.00 0 1 0 -2.00,0zM466.25,306.90a1.00,1.00 0 1 0 2.00,0a1.00,1.00 0 1 0 -2.00,0zM473.99,306.90a1.00,1.00 0 1 0 2.00,0a1.00,1.00 0 1 0 -2.00,0zM468.18,308.83a1.00,1.00 0 1 0 2.00,0a1.00,1.00 0 1 0 -2.00,0zM475.93,308.83a1.00,1.00 0 1 0 2.00,0a1.00,1.00 0 1 0 -2.00,0zM462.37,310.77a1.00,1.00 0 1 0 2.00,0a1.00,1.00 0 1 0 -2.00,0zM470.12,310.77a1.00,1.00 0 1 0 2.00,0a1.00,1.00 0 1 0 -2.00,0zM464.31,312.70a1.00,1.00 0 1 0 2.00,0a1.00,1.00 0 1 0 -2.00,0zM472.05,312.70a1.00,1.00 0 1 0 2.00,0a1.00,1.00 0 1 0 -2.00,0zM466.25,314.64a1.00,1.00 0 1 0 2.00,0a1.00,1.00 0 1 0 -2.00,0zM473.99,314.64a1.00,1.00 0 1 0 2.00,0a1.00,1.00 0 1 0 -2.00,0z"/><path fill="none" stroke="#000" stroke-opacity="0.72" stroke-width="1.1" d="M327.06,189.95L453.72,316.60M334.81,189.95L461.46,316.60M342.55,189.95L469.21,316.60M350.30,189.95L476.95,316.60M358.04,189.95L484.70,316.60M365.79,189.95L492.44,316.60M373.53,189.95L500.19,316.60M381.28,189.95L507.93,316.60M389.02,189.95L515.67,316.60M396.77,189.95L523.42,316.60M404.51,189.95L531.16,316.60M412.26,189.95L538.91,316.60M420.00,189.95L546.65,316.60M427.75,189.95L554.40,316.60M435.50,189.95L562.14,316.60M443.24,189.95L569.89,316.60M450.99,189.95L577.63,316.60M458.73,189.95L585.38,316.60M466.47,189.95L593.12,316.60M474.22,189.95L600.87,316.60M481.96,189.95L608.62,316.60M489.71,189.95L616.36,316.60"/></g>
<rect x="463.50" y="191.50" width="14.00" height="123.10" fill="none" stroke="#41598c" stroke-width="0.9"/>
<path d="M453.50,281.50 V287.46 M447.70,281.50 h11.6" stroke="#555" stroke-width="1" fill="none"/>
<path d="M453.50,287.46 V293.50 M447.70,293.50 h11.6" stroke="#5a5a5a" stroke-width="1" fill="none"/>
<path d="M471.50,176.50 V191.59 M465.70,176.50 h11.6" stroke="#555" stroke-width="1" fill="none"/>
<path d="M471.50,191.59 V206.50 M465.70,206.50 h11.6" stroke="#8c8c8c" stroke-width="1" fill="none"/>
<rect x="509.03" y="304.72" width="14.70" height="9.88" fill="#000"/>
<clipPath id="c7"><rect x="527.95" y="252.95" width="13.10" height="61.65"/></clipPath><g clip-path="url(#c7)"><path fill="#000" d="M528.21,252.68a1.00,1.00 0 1 0 2.00,0a1.00,1.00 0 1 0 -2.00,0zM535.95,252.68a1.00,1.00 0 1 0 2.00,0a1.00,1.00 0 1 0 -2.00,0zM530.14,254.62a1.00,1.00 0 1 0 2.00,0a1.00,1.00 0 1 0 -2.00,0zM537.89,254.62a1.00,1.00 0 1 0 2.00,0a1.00,1.00 0 1 0 -2.00,0zM532.08,256.55a1.00,1.00 0 1 0 2.00,0a1.00,1.00 0 1 0 -2.00,0zM539.82,256.55a1.00,1.00 0 1 0 2.00,0a1.00,1.00 0 1 0 -2.00,0zM526.27,258.49a1.00,1.00 0 1 0 2.00,0a1.00,1.00 0 1 0 -2.00,0zM534.01,258.49a1.00,1.00 0 1 0 2.00,0a1.00,1.00 0 1 0 -2.00,0zM528.21,260.43a1.00,1.00 0 1 0 2.00,0a1.00,1.00 0 1 0 -2.00,0zM535.95,260.43a1.00,1.00 0 1 0 2.00,0a1.00,1.00 0 1 0 -2.00,0zM530.14,262.36a1.00,1.00 0 1 0 2.00,0a1.00,1.00 0 1 0 -2.00,0zM537.89,262.36a1.00,1.00 0 1 0 2.00,0a1.00,1.00 0 1 0 -2.00,0zM532.08,264.30a1.00,1.00 0 1 0 2.00,0a1.00,1.00 0 1 0 -2.00,0zM539.82,264.30a1.00,1.00 0 1 0 2.00,0a1.00,1.00 0 1 0 -2.00,0zM526.27,266.23a1.00,1.00 0 1 0 2.00,0a1.00,1.00 0 1 0 -2.00,0zM534.01,266.23a1.00,1.00 0 1 0 2.00,0a1.00,1.00 0 1 0 -2.00,0zM528.21,268.17a1.00,1.00 0 1 0 2.00,0a1.00,1.00 0 1 0 -2.00,0zM535.95,268.17a1.00,1.00 0 1 0 2.00,0a1.00,1.00 0 1 0 -2.00,0zM530.14,270.11a1.00,1.00 0 1 0 2.00,0a1.00,1.00 0 1 0 -2.00,0zM537.89,270.11a1.00,1.00 0 1 0 2.00,0a1.00,1.00 0 1 0 -2.00,0zM532.08,272.04a1.00,1.00 0 1 0 2.00,0a1.00,1.00 0 1 0 -2.00,0zM539.82,272.04a1.00,1.00 0 1 0 2.00,0a1.00,1.00 0 1 0 -2.00,0zM526.27,273.98a1.00,1.00 0 1 0 2.00,0a1.00,1.00 0 1 0 -2.00,0zM534.01,273.98a1.00,1.00 0 1 0 2.00,0a1.00,1.00 0 1 0 -2.00,0zM528.21,275.92a1.00,1.00 0 1 0 2.00,0a1.00,1.00 0 1 0 -2.00,0zM535.95,275.92a1.00,1.00 0 1 0 2.00,0a1.00,1.00 0 1 0 -2.00,0zM530.14,277.85a1.00,1.00 0 1 0 2.00,0a1.00,1.00 0 1 0 -2.00,0zM537.89,277.85a1.00,1.00 0 1 0 2.00,0a1.00,1.00 0 1 0 -2.00,0zM532.08,279.79a1.00,1.00 0 1 0 2.00,0a1.00,1.00 0 1 0 -2.00,0zM539.82,279.79a1.00,1.00 0 1 0 2.00,0a1.00,1.00 0 1 0 -2.00,0zM526.27,281.72a1.00,1.00 0 1 0 2.00,0a1.00,1.00 0 1 0 -2.00,0zM534.01,281.72a1.00,1.00 0 1 0 2.00,0a1.00,1.00 0 1 0 -2.00,0zM528.21,283.66a1.00,1.00 0 1 0 2.00,0a1.00,1.00 0 1 0 -2.00,0zM535.95,283.66a1.00,1.00 0 1 0 2.00,0a1.00,1.00 0 1 0 -2.00,0zM530.14,285.60a1.00,1.00 0 1 0 2.00,0a1.00,1.00 0 1 0 -2.00,0zM537.89,285.60a1.00,1.00 0 1 0 2.00,0a1.00,1.00 0 1 0 -2.00,0zM532.08,287.53a1.00,1.00 0 1 0 2.00,0a1.00,1.00 0 1 0 -2.00,0zM539.82,287.53a1.00,1.00 0 1 0 2.00,0a1.00,1.00 0 1 0 -2.00,0zM526.27,289.47a1.00,1.00 0 1 0 2.00,0a1.00,1.00 0 1 0 -2.00,0zM534.01,289.47a1.00,1.00 0 1 0 2.00,0a1.00,1.00 0 1 0 -2.00,0zM528.21,291.41a1.00,1.00 0 1 0 2.00,0a1.00,1.00 0 1 0 -2.00,0zM535.95,291.41a1.00,1.00 0 1 0 2.00,0a1.00,1.00 0 1 0 -2.00,0zM530.14,293.34a1.00,1.00 0 1 0 2.00,0a1.00,1.00 0 1 0 -2.00,0zM537.89,293.34a1.00,1.00 0 1 0 2.00,0a1.00,1.00 0 1 0 -2.00,0zM532.08,295.28a1.00,1.00 0 1 0 2.00,0a1.00,1.00 0 1 0 -2.00,0zM539.82,295.28a1.00,1.00 0 1 0 2.00,0a1.00,1.00 0 1 0 -2.00,0zM526.27,297.21a1.00,1.00 0 1 0 2.00,0a1.00,1.00 0 1 0 -2.00,0zM534.01,297.21a1.00,1.00 0 1 0 2.00,0a1.00,1.00 0 1 0 -2.00,0zM528.21,299.15a1.00,1.00 0 1 0 2.00,0a1.00,1.00 0 1 0 -2.00,0zM535.95,299.15a1.00,1.00 0 1 0 2.00,0a1.00,1.00 0 1 0 -2.00,0zM530.14,301.09a1.00,1.00 0 1 0 2.00,0a1.00,1.00 0 1 0 -2.00,0zM537.89,301.09a1.00,1.00 0 1 0 2.00,0a1.00,1.00 0 1 0 -2.00,0zM532.08,303.02a1.00,1.00 0 1 0 2.00,0a1.00,1.00 0 1 0 -2.00,0zM539.82,303.02a1.00,1.00 0 1 0 2.00,0a1.00,1.00 0 1 0 -2.00,0zM526.27,304.96a1.00,1.00 0 1 0 2.00,0a1.00,1.00 0 1 0 -2.00,0zM534.01,304.96a1.00,1.00 0 1 0 2.00,0a1.00,1.00 0 1 0 -2.00,0zM528.21,306.90a1.00,1.00 0 1 0 2.00,0a1.00,1.00 0 1 0 -2.00,0zM535.95,306.90a1.00,1.00 0 1 0 2.00,0a1.00,1.00 0 1 0 -2.00,0zM530.14,308.83a1.00,1.00 0 1 0 2.00,0a1.00,1.00 0 1 0 -2.00,0zM537.89,308.83a1.00,1.00 0 1 0 2.00,0a1.00,1.00 0 1 0 -2.00,0zM532.08,310.77a1.00,1.00 0 1 0 2.00,0a1.00,1.00 0 1 0 -2.00,0zM539.82,310.77a1.00,1.00 0 1 0 2.00,0a1.00,1.00 0 1 0 -2.00,0zM526.27,312.70a1.00,1.00 0 1 0 2.00,0a1.00,1.00 0 1 0 -2.00,0zM534.01,312.70a1.00,1.00 0 1 0 2.00,0a1.00,1.00 0 1 0 -2.00,0zM528.21,314.64a1.00,1.00 0 1 0 2.00,0a1.00,1.00 0 1 0 -2.00,0zM535.95,314.64a1.00,1.00 0 1 0 2.00,0a1.00,1.00 0 1 0 -2.00,0z"/><path fill="none" stroke="#000" stroke-opacity="0.72" stroke-width="1.1" d="M450.02,250.95L515.67,316.60M457.77,250.95L523.42,316.60M465.51,250.95L531.16,316.60M473.26,250.95L538.91,316.60M481.00,250.95L546.65,316.60M488.75,250.95L554.40,316.60M496.50,250.95L562.14,316.60M504.24,250.95L569.89,316.60M511.99,250.95L577.63,316.60M519.73,250.95L585.38,316.60M527.47,250.95L593.12,316.60M535.22,250.95L600.87,316.60M542.96,250.95L608.62,316.60M550.71,250.95L616.36,316.60"/></g>
<rect x="527.50" y="252.50" width="14.00" height="62.10" fill="none" stroke="#41598c" stroke-width="0.9"/>
<path d="M516.50,304.50 V304.72 M510.70,304.50 h11.6" stroke="#555" stroke-width="1" fill="none"/>
<path d="M516.50,304.72 V305.50 M510.70,305.50 h11.6" stroke="#5a5a5a" stroke-width="1" fill="none"/>
<path d="M534.50,247.50 V252.26 M528.70,247.50 h11.6" stroke="#555" stroke-width="1" fill="none"/>
<path d="M534.50,252.26 V256.50 M528.70,256.50 h11.6" stroke="#8c8c8c" stroke-width="1" fill="none"/>
<rect x="572.52" y="291.03" width="14.70" height="23.57" fill="#000"/>
<clipPath id="c8"><rect x="590.95" y="238.95" width="13.10" height="75.65"/></clipPath><g clip-path="url(#c8)"><path fill="#000" d="M592.10,239.13a1.00,1.00 0 1 0 2.00,0a1.00,1.00 0 1 0 -2.00,0zM599.85,239.13a1.00,1.00 0 1 0 2.00,0a1.00,1.00 0 1 0 -2.00,0zM594.04,241.06a1.00,1.00 0 1 0 2.00,0a1.00,1.00 0 1 0 -2.00,0zM601.78,241.06a1.00,1.00 0 1 0 2.00,0a1.00,1.00 0 1 0 -2.00,0zM595.97,243.00a1.00,1.00 0 1 0 2.00,0a1.00,1.00 0 1 0 -2.00,0zM603.72,243.00a1.00,1.00 0 1 0 2.00,0a1.00,1.00 0 1 0 -2.00,0zM590.17,244.94a1.00,1.00 0 1 0 2.00,0a1.00,1.00 0 1 0 -2.00,0zM597.91,244.94a1.00,1.00 0 1 0 2.00,0a1.00,1.00 0 1 0 -2.00,0zM592.10,246.87a1.00,1.00 0 1 0 2.00,0a1.00,1.00 0 1 0 -2.00,0zM599.85,246.87a1.00,1.00 0 1 0 2.00,0a1.00,1.00 0 1 0 -2.00,0zM594.04,248.81a1.00,1.00 0 1 0 2.00,0a1.00,1.00 0 1 0 -2.00,0zM601.78,248.81a1.00,1.00 0 1 0 2.00,0a1.00,1.00 0 1 0 -2.00,0zM595.97,250.74a1.00,1.00 0 1 0 2.00,0a1.00,1.00 0 1 0 -2.00,0zM603.72,250.74a1.00,1.00 0 1 0 2.00,0a1.00,1.00 0 1 0 -2.00,0zM590.17,252.68a1.00,1.00 0 1 0 2.00,0a1.00,1.00 0 1 0 -2.00,0zM597.91,252.68a1.00,1.00 0 1 0 2.00,0a1.00,1.00 0 1 0 -2.00,0zM592.10,254.62a1.00,1.00 0 1 0 2.00,0a1.00,1.00 0 1 0 -2.00,0zM599.85,254.62a1.00,1.00 0 1 0 2.00,0a1.00,1.00 0 1 0 -2.00,0zM594.04,256.55a1.00,1.00 0 1 0 2.00,0a1.00,1.00 0 1 0 -2.00,0zM601.78,256.55a1.00,1.00 0 1 0 2.00,0a1.00,1.00 0 1 0 -2.00,0zM595.97,258.49a1.00,1.00 0 1 0 2.00,0a1.00,1.00 0 1 0 -2.00,0zM603.72,258.49a1.00,1.00 0 1 0 2.00,0a1.00,1.00 0 1 0 -2.00,0zM590.17,260.43a1.00,1.00 0 1 0 2.00,0a1.00,1.00 0 1 0 -2.00,0zM597.91,260.43a1.00,1.00 0 1 0 2.00,0a1.00,1.00 0 1 0 -2.00,0zM592.10,262.36a1.00,1.00 0 1 0 2.00,0a1.00,1.00 0 1 0 -2.00,0zM599.85,262.36a1.00,1.00 0 1 0 2.00,0a1.00,1.00 0 1 0 -2.00,0zM594.04,264.30a1.00,1.00 0 1 0 2.00,0a1.00,1.00 0 1 0 -2.00,0zM601.78,264.30a1.00,1.00 0 1 0 2.00,0a1.00,1.00 0 1 0 -2.00,0zM595.97,266.23a1.00,1.00 0 1 0 2.00,0a1.00,1.00 0 1 0 -2.00,0zM603.72,266.23a1.00,1.00 0 1 0 2.00,0a1.00,1.00 0 1 0 -2.00,0zM590.17,268.17a1.00,1.00 0 1 0 2.00,0a1.00,1.00 0 1 0 -2.00,0zM597.91,268.17a1.00,1.00 0 1 0 2.00,0a1.00,1.00 0 1 0 -2.00,0zM592.10,270.11a1.00,1.00 0 1 0 2.00,0a1.00,1.00 0 1 0 -2.00,0zM599.85,270.11a1.00,1.00 0 1 0 2.00,0a1.00,1.00 0 1 0 -2.00,0zM594.04,272.04a1.00,1.00 0 1 0 2.00,0a1.00,1.00 0 1 0 -2.00,0zM601.78,272.04a1.00,1.00 0 1 0 2.00,0a1.00,1.00 0 1 0 -2.00,0zM595.97,273.98a1.00,1.00 0 1 0 2.00,0a1.00,1.00 0 1 0 -2.00,0zM603.72,273.98a1.00,1.00 0 1 0 2.00,0a1.00,1.00 0 1 0 -2.00,0zM590.17,275.92a1.00,1.00 0 1 0 2.00,0a1.00,1.00 0 1 0 -2.00,0zM597.91,275.92a1.00,1.00 0 1 0 2.00,0a1.00,1.00 0 1 0 -2.00,0zM592.10,277.85a1.00,1.00 0 1 0 2.00,0a1.00,1.00 0 1 0 -2.00,0zM599.85,277.85a1.00,1.00 0 1 0 2.00,0a1.00,1.00 0 1 0 -2.00,0zM594.04,279.79a1.00,1.00 0 1 0 2.00,0a1.00,1.00 0 1 0 -2.00,0zM601.78,279.79a1.00,1.00 0 1 0 2.00,0a1.00,1.00 0 1 0 -2.00,0zM595.97,281.72a1.00,1.00 0 1 0 2.00,0a1.00,1.00 0 1 0 -2.00,0zM603.72,281.72a1.00,1.00 0 1 0 2.00,0a1.00,1.00 0 1 0 -2.00,0zM590.17,283.66a1.00,1.00 0 1 0 2.00,0a1.00,1.00 0 1 0 -2.00,0zM597.91,283.66a1.00,1.00 0 1 0 2.00,0a1.00,1.00 0 1 0 -2.00,0zM592.10,285.60a1.00,1.00 0 1 0 2.00,0a1.00,1.00 0 1 0 -2.00,0zM599.85,285.60a1.00,1.00 0 1 0 2.00,0a1.00,1.00 0 1 0 -2.00,0zM594.04,287.53a1.00,1.00 0 1 0 2.00,0a1.00,1.00 0 1 0 -2.00,0zM601.78,287.53a1.00,1.00 0 1 0 2.00,0a1.00,1.00 0 1 0 -2.00,0zM595.97,289.47a1.00,1.00 0 1 0 2.00,0a1.00,1.00 0 1 0 -2.00,0zM603.72,289.47a1.00,1.00 0 1 0 2.00,0a1.00,1.00 0 1 0 -2.00,0zM590.17,291.41a1.00,1.00 0 1 0 2.00,0a1.00,1.00 0 1 0 -2.00,0zM597.91,291.41a1.00,1.00 0 1 0 2.00,0a1.00,1.00 0 1 0 -2.00,0zM592.10,293.34a1.00,1.00 0 1 0 2.00,0a1.00,1.00 0 1 0 -2.00,0zM599.85,293.34a1.00,1.00 0 1 0 2.00,0a1.00,1.00 0 1 0 -2.00,0zM594.04,295.28a1.00,1.00 0 1 0 2.00,0a1.00,1.00 0 1 0 -2.00,0zM601.78,295.28a1.00,1.00 0 1 0 2.00,0a1.00,1.00 0 1 0 -2.00,0zM595.97,297.21a1.00,1.00 0 1 0 2.00,0a1.00,1.00 0 1 0 -2.00,0zM603.72,297.21a1.00,1.00 0 1 0 2.00,0a1.00,1.00 0 1 0 -2.00,0zM590.17,299.15a1.00,1.00 0 1 0 2.00,0a1.00,1.00 0 1 0 -2.00,0zM597.91,299.15a1.00,1.00 0 1 0 2.00,0a1.00,1.00 0 1 0 -2.00,0zM592.10,301.09a1.00,1.00 0 1 0 2.00,0a1.00,1.00 0 1 0 -2.00,0zM599.85,301.09a1.00,1.00 0 1 0 2.00,0a1.00,1.00 0 1 0 -2.00,0zM594.04,303.02a1.00,1.00 0 1 0 2.00,0a1.00,1.00 0 1 0 -2.00,0zM601.78,303.02a1.00,1.00 0 1 0 2.00,0a1.00,1.00 0 1 0 -2.00,0zM595.97,304.96a1.00,1.00 0 1 0 2.00,0a1.00,1.00 0 1 0 -2.00,0zM603.72,304.96a1.00,1.00 0 1 0 2.00,0a1.00,1.00 0 1 0 -2.00,0zM590.17,306.90a1.00,1.00 0 1 0 2.00,0a1.00,1.00 0 1 0 -2.00,0zM597.91,306.90a1.00,1.00 0 1 0 2.00,0a1.00,1.00 0 1 0 -2.00,0zM592.10,308.83a1.00,1.00 0 1 0 2.00,0a1.00,1.00 0 1 0 -2.00,0zM599.85,308.83a1.00,1.00 0 1 0 2.00,0a1.00,1.00 0 1 0 -2.00,0zM594.04,310.77a1.00,1.00 0 1 0 2.00,0a1.00,1.00 0 1 0 -2.00,0zM601.78,310.77a1.00,1.00 0 1 0 2.00,0a1.00,1.00 0 1 0 -2.00,0zM595.97,312.70a1.00,1.00 0 1 0 2.00,0a1.00,1.00 0 1 0 -2.00,0zM603.72,312.70a1.00,1.00 0 1 0 2.00,0a1.00,1.00 0 1 0 -2.00,0zM590.17,314.64a1.00,1.00 0 1 0 2.00,0a1.00,1.00 0 1 0 -2.00,0zM597.91,314.64a1.00,1.00 0 1 0 2.00,0a1.00,1.00 0 1 0 -2.00,0z"/><path fill="none" stroke="#000" stroke-opacity="0.72" stroke-width="1.1" d="M497.99,236.95L577.63,316.60M505.73,236.95L585.38,316.60M513.47,236.95L593.12,316.60M521.22,236.95L600.87,316.60M528.96,236.95L608.62,316.60M536.71,236.95L616.36,316.60M544.45,236.95L624.11,316.60M552.20,236.95L631.85,316.60M559.94,236.95L639.60,316.60M567.69,236.95L647.34,316.60M575.43,236.95L655.09,316.60M583.18,236.95L662.83,316.60M590.92,236.95L670.58,316.60M598.67,236.95L678.32,316.60M606.41,236.95L686.07,316.60M614.16,236.95L693.81,316.60"/></g>
<rect x="590.50" y="238.50" width="14.00" height="76.10" fill="none" stroke="#41598c" stroke-width="0.9"/>
<path d="M580.50,289.50 V291.03 M574.70,289.50 h11.6" stroke="#555" stroke-width="1" fill="none"/>
<path d="M580.50,291.03 V292.50 M574.70,292.50 h11.6" stroke="#5a5a5a" stroke-width="1" fill="none"/>
<path d="M598.50,233.50 V238.19 M592.70,233.50 h11.6" stroke="#555" stroke-width="1" fill="none"/>
<path d="M598.50,238.19 V243.50 M592.70,243.50 h11.6" stroke="#8c8c8c" stroke-width="1" fill="none"/>
<rect x="636.01" y="291.03" width="14.70" height="23.57" fill="#000"/>
<clipPath id="c9"><rect x="654.95" y="208.95" width="13.10" height="105.65"/></clipPath><g clip-path="url(#c9)"><path fill="#000" d="M654.06,208.15a1.00,1.00 0 1 0 2.00,0a1.00,1.00 0 1 0 -2.00,0zM661.81,208.15a1.00,1.00 0 1 0 2.00,0a1.00,1.00 0 1 0 -2.00,0zM656.00,210.08a1.00,1.00 0 1 0 2.00,0a1.00,1.00 0 1 0 -2.00,0zM663.74,210.08a1.00,1.00 0 1 0 2.00,0a1.00,1.00 0 1 0 -2.00,0zM657.93,212.02a1.00,1.00 0 1 0 2.00,0a1.00,1.00 0 1 0 -2.00,0zM665.68,212.02a1.00,1.00 0 1 0 2.00,0a1.00,1.00 0 1 0 -2.00,0zM659.87,213.96a1.00,1.00 0 1 0 2.00,0a1.00,1.00 0 1 0 -2.00,0zM667.62,213.96a1.00,1.00 0 1 0 2.00,0a1.00,1.00 0 1 0 -2.00,0zM654.06,215.89a1.00,1.00 0 1 0 2.00,0a1.00,1.00 0 1 0 -2.00,0zM661.81,215.89a1.00,1.00 0 1 0 2.00,0a1.00,1.00 0 1 0 -2.00,0zM656.00,217.83a1.00,1.00 0 1 0 2.00,0a1.00,1.00 0 1 0 -2.00,0zM663.74,217.83a1.00,1.00 0 1 0 2.00,0a1.00,1.00 0 1 0 -2.00,0zM657.93,219.76a1.00,1.00 0 1 0 2.00,0a1.00,1.00 0 1 0 -2.00,0zM665.68,219.76a1.00,1.00 0 1 0 2.00,0a1.00,1.00 0 1 0 -2.00,0zM659.87,221.70a1.00,1.00 0 1 0 2.00,0a1.00,1.00 0 1 0 -2.00,0zM667.62,221.70a1.00,1.00 0 1 0 2.00,0a1.00,1.00 0 1 0 -2.00,0zM654.06,223.64a1.00,1.00 0 1 0 2.00,0a1.00,1.00 0 1 0 -2.00,0zM661.81,223.64a1.00,1.00 0 1 0 2.00,0a1.00,1.00 0 1 0 -2.00,0zM656.00,225.57a1.00,1.00 0 1 0 2.00,0a1.00,1.00 0 1 0 -2.00,0zM663.74,225.57a1.00,1.00 0 1 0 2.00,0a1.00,1.00 0 1 0 -2.00,0zM657.93,227.51a1.00,1.00 0 1 0 2.00,0a1.00,1.00 0 1 0 -2.00,0zM665.68,227.51a1.00,1.00 0 1 0 2.00,0a1.00,1.00 0 1 0 -2.00,0zM659.87,229.45a1.00,1.00 0 1 0 2.00,0a1.00,1.00 0 1 0 -2.00,0zM667.62,229.45a1.00,1.00 0 1 0 2.00,0a1.00,1.00 0 1 0 -2.00,0zM654.06,231.38a1.00,1.00 0 1 0 2.00,0a1.00,1.00 0 1 0 -2.00,0zM661.81,231.38a1.00,1.00 0 1 0 2.00,0a1.00,1.00 0 1 0 -2.00,0zM656.00,233.32a1.00,1.00 0 1 0 2.00,0a1.00,1.00 0 1 0 -2.00,0zM663.74,233.32a1.00,1.00 0 1 0 2.00,0a1.00,1.00 0 1 0 -2.00,0zM657.93,235.25a1.00,1.00 0 1 0 2.00,0a1.00,1.00 0 1 0 -2.00,0zM665.68,235.25a1.00,1.00 0 1 0 2.00,0a1.00,1.00 0 1 0 -2.00,0zM659.87,237.19a1.00,1.00 0 1 0 2.00,0a1.00,1.00 0 1 0 -2.00,0zM667.62,237.19a1.00,1.00 0 1 0 2.00,0a1.00,1.00 0 1 0 -2.00,0zM654.06,239.13a1.00,1.00 0 1 0 2.00,0a1.00,1.00 0 1 0 -2.00,0zM661.81,239.13a1.00,1.00 0 1 0 2.00,0a1.00,1.00 0 1 0 -2.00,0zM656.00,241.06a1.00,1.00 0 1 0 2.00,0a1.00,1.00 0 1 0 -2.00,0zM663.74,241.06a1.00,1.00 0 1 0 2.00,0a1.00,1.00 0 1 0 -2.00,0zM657.93,243.00a1.00,1.00 0 1 0 2.00,0a1.00,1.00 0 1 0 -2.00,0zM665.68,243.00a1.00,1.00 0 1 0 2.00,0a1.00,1.00 0 1 0 -2.00,0zM659.87,244.94a1.00,1.00 0 1 0 2.00,0a1.00,1.00 0 1 0 -2.00,0zM667.62,244.94a1.00,1.00 0 1 0 2.00,0a1.00,1.00 0 1 0 -2.00,0zM654.06,246.87a1.00,1.00 0 1 0 2.00,0a1.00,1.00 0 1 0 -2.00,0zM661.81,246.87a1.00,1.00 0 1 0 2.00,0a1.00,1.00 0 1 0 -2.00,0zM656.00,248.81a1.00,1.00 0 1 0 2.00,0a1.00,1.00 0 1 0 -2.00,0zM663.74,248.81a1.00,1.00 0 1 0 2.00,0a1.00,1.00 0 1 0 -2.00,0zM657.93,250.74a1.00,1.00 0 1 0 2.00,0a1.00,1.00 0 1 0 -2.00,0zM665.68,250.74a1.00,1.00 0 1 0 2.00,0a1.00,1.00 0 1 0 -2.00,0zM659.87,252.68a1.00,1.00 0 1 0 2.00,0a1.00,1.00 0 1 0 -2.00,0zM667.62,252.68a1.00,1.00 0 1 0 2.00,0a1.00,1.00 0 1 0 -2.00,0zM654.06,254.62a1.00,1.00 0 1 0 2.00,0a1.00,1.00 0 1 0 -2.00,0zM661.81,254.62a1.00,1.00 0 1 0 2.00,0a1.00,1.00 0 1 0 -2.00,0zM656.00,256.55a1.00,1.00 0 1 0 2.00,0a1.00,1.00 0 1 0 -2.00,0zM663.74,256.55a1.00,1.00 0 1 0 2.00,0a1.00,1.00 0 1 0 -2.00,0zM657.93,258.49a1.00,1.00 0 1 0 2.00,0a1.00,1.00 0 1 0 -2.00,0zM665.68,258.49a1.00,1.00 0 1 0 2.00,0a1.00,1.00 0 1 0 -2.00,0zM659.87,260.43a1.00,1.00 0 1 0 2.00,0a1.00,1.00 0 1 0 -2.00,0zM667.62,260.43a1.00,1.00 0 1 0 2.00,0a1.00,1.00 0 1 0 -2.00,0zM654.06,262.36a1.00,1.00 0 1 0 2.00,0a1.00,1.00 0 1 0 -2.00,0zM661.81,262.36a1.00,1.00 0 1 0 2.00,0a1.00,1.00 0 1 0 -2.00,0zM656.00,264.30a1.00,1.00 0 1 0 2.00,0a1.00,1.00 0 1 0 -2.00,0zM663.74,264.30a1.00,1.00 0 1 0 2.00,0a1.00,1.00 0 1 0 -2.00,0zM657.93,266.23a1.00,1.00 0 1 0 2.00,0a1.00,1.00 0 1 0 -2.00,0zM665.68,266.23a1.00,1.00 0 1 0 2.00,0a1.00,1.00 0 1 0 -2.00,0zM659.87,268.17a1.00,1.00 0 1 0 2.00,0a1.00,1.00 0 1 0 -2.00,0zM667.62,268.17a1.00,1.00 0 1 0 2.00,0a1.00,1.00 0 1 0 -2.00,0zM654.06,270.11a1.00,1.00 0 1 0 2.00,0a1.00,1.00 0 1 0 -2.00,0zM661.81,270.11a1.00,1.00 0 1 0 2.00,0a1.00,1.00 0 1 0 -2.00,0zM656.00,272.04a1.00,1.00 0 1 0 2.00,0a1.00,1.00 0 1 0 -2.00,0zM663.74,272.04a1.00,1.00 0 1 0 2.00,0a1.00,1.00 0 1 0 -2.00,0zM657.93,273.98a1.00,1.00 0 1 0 2.00,0a1.00,1.00 0 1 0 -2.00,0zM665.68,273.98a1.00,1.00 0 1 0 2.00,0a1.00,1.00 0 1 0 -2.00,0zM659.87,275.92a1.00,1.00 0 1 0 2.00,0a1.00,1.00 0 1 0 -2.00,0zM667.62,275.92a1.00,1.00 0 1 0 2.00,0a1.00,1.00 0 1 0 -2.00,0zM654.06,277.85a1.00,1.00 0 1 0 2.00,0a1.00,1.00 0 1 0 -2.00,0zM661.81,277.85a1.00,1.00 0 1 0 2.00,0a1.00,1.00 0 1 0 -2.00,0zM656.00,279.79a1.00,1.00 0 1 0 2.00,0a1.00,1.00 0 1 0 -2.00,0zM663.74,279.79a1.00,1.00 0 1 0 2.00,0a1.00,1.00 0 1 0 -2.00,0zM657.93,281.72a1.00,1.00 0 1 0 2.00,0a1.00,1.00 0 1 0 -2.00,0zM665.68,281.72a1.00,1.00 0 1 0 2.00,0a1.00,1.00 0 1 0 -2.00,0zM659.87,283.66a1.00,1.00 0 1 0 2.00,0a1.00,1.00 0 1 0 -2.00,0zM667.62,283.66a1.00,1.00 0 1 0 2.00,0a1.00,1.00 0 1 0 -2.00,0zM654.06,285.60a1.00,1.00 0 1 0 2.00,0a1.00,1.00 0 1 0 -2.00,0zM661.81,285.60a1.00,1.00 0 1 0 2.00,0a1.00,1.00 0 1 0 -2.00,0zM656.00,287.53a1.00,1.00 0 1 0 2.00,0a1.00,1.00 0 1 0 -2.00,0zM663.74,287.53a1.00,1.00 0 1 0 2.00,0a1.00,1.00 0 1 0 -2.00,0zM657.93,289.47a1.00,1.00 0 1 0 2.00,0a1.00,1.00 0 1 0 -2.00,0zM665.68,289.47a1.00,1.00 0 1 0 2.00,0a1.00,1.00 0 1 0 -2.00,0zM659.87,291.41a1.00,1.00 0 1 0 2.00,0a1.00,1.00 0 1 0 -2.00,0zM667.62,291.41a1.00,1.00 0 1 0 2.00,0a1.00,1.00 0 1 0 -2.00,0zM654.06,293.34a1.00,1.00 0 1 0 2.00,0a1.00,1.00 0 1 0 -2.00,0zM661.81,293.34a1.00,1.00 0 1 0 2.00,0a1.00,1.00 0 1 0 -2.00,0zM656.00,295.28a1.00,1.00 0 1 0 2.00,0a1.00,1.00 0 1 0 -2.00,0zM663.74,295.28a1.00,1.00 0 1 0 2.00,0a1.00,1.00 0 1 0 -2.00,0zM657.93,297.21a1.00,1.00 0 1 0 2.00,0a1.00,1.00 0 1 0 -2.00,0zM665.68,297.21a1.00,1.00 0 1 0 2.00,0a1.00,1.00 0 1 0 -2.00,0zM659.87,299.15a1.00,1.00 0 1 0 2.00,0a1.00,1.00 0 1 0 -2.00,0zM667.62,299.15a1.00,1.00 0 1 0 2.00,0a1.00,1.00 0 1 0 -2.00,0zM654.06,301.09a1.00,1.00 0 1 0 2.00,0a1.00,1.00 0 1 0 -2.00,0zM661.81,301.09a1.00,1.00 0 1 0 2.00,0a1.00,1.00 0 1 0 -2.00,0zM656.00,303.02a1.00,1.00 0 1 0 2.00,0a1.00,1.00 0 1 0 -2.00,0zM663.74,303.02a1.00,1.00 0 1 0 2.00,0a1.00,1.00 0 1 0 -2.00,0zM657.93,304.96a1.00,1.00 0 1 0 2.00,0a1.00,1.00 0 1 0 -2.00,0zM665.68,304.96a1.00,1.00 0 1 0 2.00,0a1.00,1.00 0 1 0 -2.00,0zM659.87,306.90a1.00,1.00 0 1 0 2.00,0a1.00,1.00 0 1 0 -2.00,0zM667.62,306.90a1.00,1.00 0 1 0 2.00,0a1.00,1.00 0 1 0 -2.00,0zM654.06,308.83a1.00,1.00 0 1 0 2.00,0a1.00,1.00 0 1 0 -2.00,0zM661.81,308.83a1.00,1.00 0 1 0 2.00,0a1.00,1.00 0 1 0 -2.00,0zM656.00,310.77a1.00,1.00 0 1 0 2.00,0a1.00,1.00 0 1 0 -2.00,0zM663.74,310.77a1.00,1.00 0 1 0 2.00,0a1.00,1.00 0 1 0 -2.00,0zM657.93,312.70a1.00,1.00 0 1 0 2.00,0a1.00,1.00 0 1 0 -2.00,0zM665.68,312.70a1.00,1.00 0 1 0 2.00,0a1.00,1.00 0 1 0 -2.00,0zM659.87,314.64a1.00,1.00 0 1 0 2.00,0a1.00,1.00 0 1 0 -2.00,0zM667.62,314.64a1.00,1.00 0 1 0 2.00,0a1.00,1.00 0 1 0 -2.00,0z"/><path fill="none" stroke="#000" stroke-opacity="0.72" stroke-width="1.1" d="M537.69,206.95L647.34,316.60M545.43,206.95L655.09,316.60M553.18,206.95L662.83,316.60M560.92,206.95L670.58,316.60M568.67,206.95L678.32,316.60M576.41,206.95L686.07,316.60M584.16,206.95L693.81,316.60M591.90,206.95L701.56,316.60M599.65,206.95L709.30,316.60M607.39,206.95L717.05,316.60M615.14,206.95L724.79,316.60M622.88,206.95L732.54,316.60M630.63,206.95L740.28,316.60M638.38,206.95L748.03,316.60M646.12,206.95L755.77,316.60M653.87,206.95L763.52,316.60M661.61,206.95L771.26,316.60M669.36,206.95L779.00,316.60M677.10,206.95L786.75,316.60"/></g>
<rect x="654.50" y="208.50" width="14.00" height="106.10" fill="none" stroke="#41598c" stroke-width="0.9"/>
<path d="M643.50,286.50 V291.03 M637.70,286.50 h11.6" stroke="#555" stroke-width="1" fill="none"/>
<path d="M643.50,291.03 V295.50 M637.70,295.50 h11.6" stroke="#5a5a5a" stroke-width="1" fill="none"/>
<path d="M661.50,187.50 V208.16 M655.70,187.50 h11.6" stroke="#555" stroke-width="1" fill="none"/>
<path d="M661.50,208.16 V229.50 M655.70,229.50 h11.6" stroke="#8c8c8c" stroke-width="1" fill="none"/>
<g stroke="#404040" stroke-width="1" fill="none">
<path d="M49.5,319.8 V48.5 H684.4 M49.5,314.6 H684.4"/>
<path d="M684.4,48.0 V319.8" stroke="#666"/>
<path d="M112.99,314.6 v5.3"/>
<path d="M176.48,314.6 v5.3"/>
<path d="M239.97,314.6 v5.3"/>
<path d="M303.46,314.6 v5.3"/>
<path d="M366.95,314.6 v5.3"/>
<path d="M430.44,314.6 v5.3"/>
<path d="M493.93,314.6 v5.3"/>
<path d="M557.42,314.6 v5.3"/>
<path d="M620.91,314.6 v5.3"/>
</g>
<text transform="translate(135.5,219.28) scale(0.92,1.2)" font-size="13" text-anchor="middle" style="fill:#2a2a2a;stroke:#2a2a2a;stroke-width:0.3">*</text>
<text transform="translate(153.3,59.98) scale(0.92,1.2)" font-size="13" text-anchor="middle" style="fill:#2a2a2a;stroke:#2a2a2a;stroke-width:0.3">*</text>
<text transform="translate(199.5,293.38) scale(0.92,1.2)" font-size="13" text-anchor="middle" style="fill:#2a2a2a;stroke:#2a2a2a;stroke-width:0.3">*</text>
<text transform="translate(217.0,226.18) scale(0.92,1.2)" font-size="13" text-anchor="middle" style="fill:#2a2a2a;stroke:#2a2a2a;stroke-width:0.3">*</text>
<text transform="translate(261.8,302.48) scale(0.92,1.2)" font-size="13" text-anchor="middle" style="fill:#2a2a2a;stroke:#2a2a2a;stroke-width:0.3">*</text>
<text transform="translate(326.2,224.28) scale(0.92,1.2)" font-size="13" text-anchor="middle" style="fill:#2a2a2a;stroke:#2a2a2a;stroke-width:0.3">*</text>
<text transform="translate(343.3,106.18) scale(0.92,1.2)" font-size="13" text-anchor="middle" style="fill:#2a2a2a;stroke:#2a2a2a;stroke-width:0.3">*</text>
<text transform="translate(389.0,238.58) scale(0.92,1.2)" font-size="13" text-anchor="middle" style="fill:#2a2a2a;stroke:#2a2a2a;stroke-width:0.3">*</text>
<text transform="translate(407.0,96.28) scale(0.92,1.2)" font-size="13" text-anchor="middle" style="fill:#2a2a2a;stroke:#2a2a2a;stroke-width:0.3">*</text>
<text transform="translate(452.4,281.78) scale(0.92,1.2)" font-size="13" text-anchor="middle" style="fill:#2a2a2a;stroke:#2a2a2a;stroke-width:0.3">*</text>
<text transform="translate(470.8,176.48) scale(0.92,1.2)" font-size="13" text-anchor="middle" style="fill:#2a2a2a;stroke:#2a2a2a;stroke-width:0.3">*</text>
<text transform="translate(533.2,249.08) scale(0.92,1.2)" font-size="13" text-anchor="middle" style="fill:#2a2a2a;stroke:#2a2a2a;stroke-width:0.3">*</text>
<text transform="translate(580.3,290.88) scale(0.92,1.2)" font-size="13" text-anchor="middle" style="fill:#2a2a2a;stroke:#2a2a2a;stroke-width:0.3">*</text>
<text transform="translate(598.3,232.28) scale(0.92,1.2)" font-size="13" text-anchor="middle" style="fill:#2a2a2a;stroke:#2a2a2a;stroke-width:0.3">*</text>
<text transform="translate(642.8,287.48) scale(0.92,1.2)" font-size="13" text-anchor="middle" style="fill:#2a2a2a;stroke:#2a2a2a;stroke-width:0.3">*</text>
<text transform="translate(660.9,187.98) scale(0.92,1.2)" font-size="13" text-anchor="middle" style="fill:#2a2a2a;stroke:#2a2a2a;stroke-width:0.3">*</text>
<text class="it" transform="translate(84.8,333.8) rotate(-45)" font-size="15.5" text-anchor="end">NC</text>
<text class="it" transform="translate(148.3,333.8) rotate(-45)" font-size="15.5" text-anchor="end">PC</text>
<text class="it" transform="translate(211.8,333.8) rotate(-45)" font-size="15.5" text-anchor="end">D. rhizomorpha</text>
<text class="it" transform="translate(275.3,333.8) rotate(-45)" font-size="15.5" text-anchor="end">D. rubescens</text>
<text class="it" transform="translate(338.8,333.8) rotate(-45)" font-size="15.5" text-anchor="end">E. lacerata</text>
<text class="it" transform="translate(402.3,333.8) rotate(-45)" font-size="15.5" text-anchor="end">P. acerina</text>
<text class="it" transform="translate(465.8,333.8) rotate(-45)" font-size="15.5" text-anchor="end">P. aurivella</text>
<text class="it" transform="translate(529.3,333.8) rotate(-45)" font-size="15.5" text-anchor="end">P. incarnata</text>
<text class="it" transform="translate(592.8,333.8) rotate(-45)" font-size="15.5" text-anchor="end">S. delectans</text>
<text class="it" transform="translate(656.3,333.8) rotate(-45)" font-size="15.5" text-anchor="end">T. cubensis</text>
</svg></body></html>
